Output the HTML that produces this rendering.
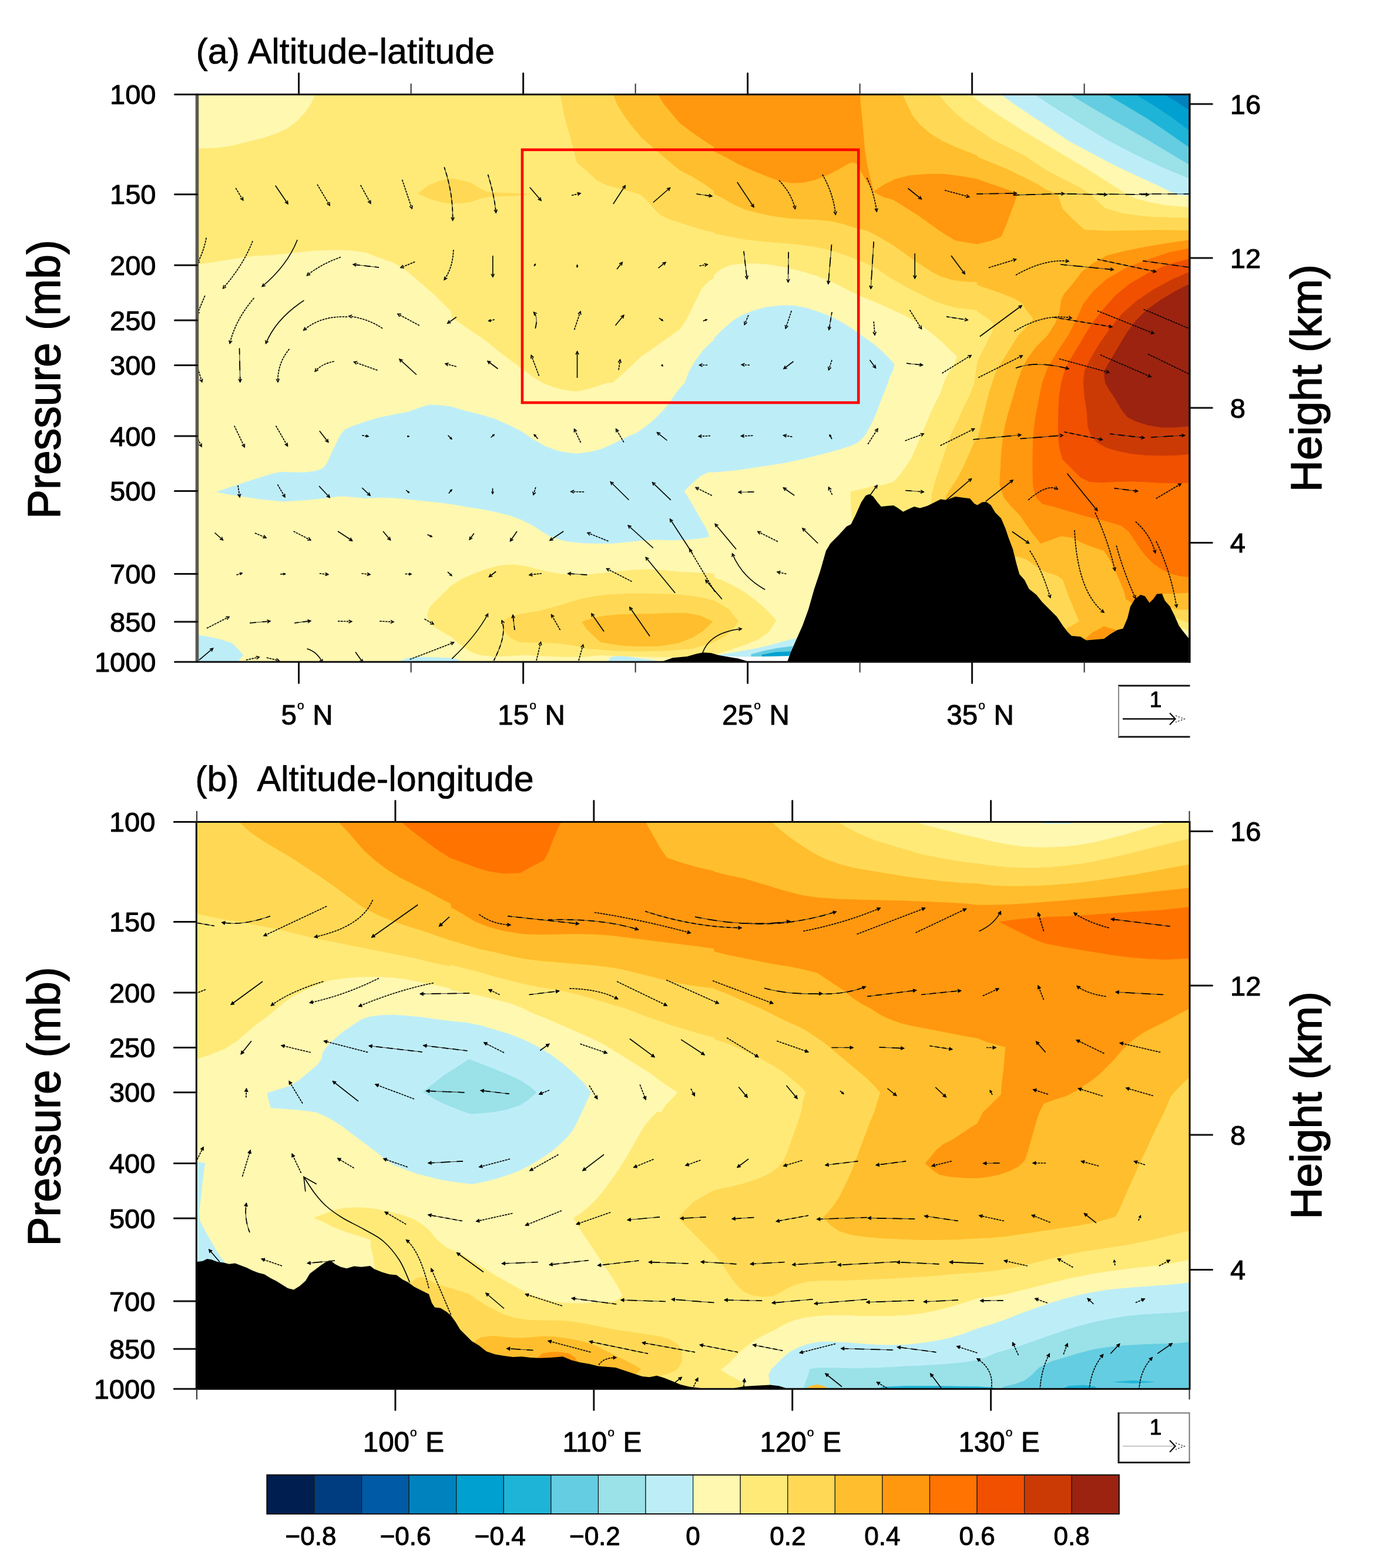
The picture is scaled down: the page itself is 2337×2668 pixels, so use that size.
<!DOCTYPE html>
<html lang="en"><head><meta charset="utf-8"><title>Altitude-latitude and altitude-longitude sections</title>
<style>html,body{margin:0;padding:0;background:#fff}svg{display:block}text{font-family:"Liberation Sans",Arial,Helvetica,sans-serif;fill:#000;stroke:#000;stroke-linejoin:round}.tk{stroke-width:1px}.tt{stroke-width:.7px}.ax{stroke-width:1.5px}</style></head><body>
<svg width="2337" height="2668" viewBox="0 0 2337 2668">
<rect width="2337" height="2668" fill="#fff"/>
<clipPath id="clipa"><rect x="335.5" y="160.7" width="1689.3" height="965.5"/></clipPath>
<g clip-path="url(#clipa)">
<rect x="335.5" y="160.7" width="1689.3" height="965.5" fill="#ffea78"/>
<path d="M535.5,161.2 530,175 520,190 505,206.2 490,217.5 475,225 450,233.8 420,241.2 395,247.5 370,251.2 337,252.5 328,252.5 328,153 535.5,153Z" fill="#fff8b0" stroke="#fff8b0" stroke-width="0.7" stroke-linejoin="round"/>
<path d="M328,450.5 337,450 365,446.2 395,441.2 430,436.2 470,433.8 505,430 535,427 570,425.5 595,426.2 622.5,430 645,438.8 670,447.5 687.5,457.5 702.5,470 720,485 740,502.5 755,517.5 767.5,530 768,540 783,550 800.5,562.5 818,573.8 833,585 848,597.5 863,608.8 878,620 893,631.2 908,642.5 923,651.5 943,659.5 963,664.5 980.5,666.5 998,663.2 1018,657 1033,652 1043,651.5 1063,633.8 1078,620 1090.5,607.5 1105.5,597.5 1123,585 1140.5,572.5 1158,560 1168,545 1178,525 1188,505 1195.5,490 1208,477.5 1215.5,473.8 1216,467.5 1228.5,457.5 1243.5,451.2 1266,448.8 1291,448.8 1316,451.2 1341,456.2 1366,462.5 1391,470 1416,480 1441,492.5 1466,505 1491,515 1516,526.2 1541,537.5 1566,552.5 1586,567.5 1603.5,582.5 1616,595 1628.5,606.2 1626,615 1618.5,627.5 1611,640 1606,651.5 1601,667 1593.5,682 1586,697 1579.8,712 1573.5,727 1566,744.5 1558.5,762 1551,779.5 1541,794.5 1531,808.2 1521,819.5 1503.5,824.5 1486,827 1466,832 1447.2,835.8 1447.2,852 1448.5,869.5 1449.8,890.8 1491,902 1491,1132 1400,1134 328,1134Z" fill="#fff8b0" stroke="#fff8b0" stroke-width="0.7" stroke-linejoin="round"/>
<path d="M1651.2,160.3 1673.5,177.9 1707,200.2 1740.4,221.4 1773.9,241.5 1807.4,261.6 1840.9,281.7 1863.2,295.1 1885.5,309.6 1903.4,320.8 1916.8,329.7 1932.4,337.2 1954.1,343 1983.1,348.8 2033.9,353.2 2033,153Z" fill="#fff8b0" stroke="#fff8b0" stroke-width="0.7" stroke-linejoin="round"/>
<path d="M368.8,837 395,828.2 420,820 445,812 465,805.8 480,803.2 500,804 520,804 537.5,801.5 550,797 557.5,787 565,769.5 572.5,754.5 580,739.5 587.5,730.8 602.5,724.5 620,718.2 645,710.8 670,705.8 695,700.8 712.5,694.5 730,689 745,689.5 767.5,692 793,699.5 818,705.8 843,713.2 868,724.5 888,734.5 908,748.2 928,759.5 948,767 968,770.8 983,772 1003,769.5 1023,764.5 1043,755.8 1063,745.8 1083,737 1098,727 1113,714.5 1128,699.5 1140.5,684.5 1150.5,669.5 1160.5,657 1165.5,652 1173,632.5 1183,615 1195.5,597.5 1208,585 1215.5,578.8 1216,575 1231,560 1248.5,545 1266,535 1286,527.5 1306,522.5 1328.5,520 1351,520 1371,523.8 1391,530 1411,537.5 1431,547.5 1451,560 1468.5,572.5 1486,585 1501,597.5 1513.5,610 1522.2,620 1519.8,630 1514.8,640 1511,651.5 1506,664.5 1499.8,679.5 1493.5,697 1486,714.5 1478.5,729.5 1471,742 1461,752 1448.5,758.2 1428.5,764.5 1406,770.8 1381,777 1356,783.2 1331,788.2 1306,792 1281,795.8 1256,799.5 1231,802 1216,803.2 1205.5,803.2 1193,809.5 1178,822 1164.2,835.8 1173,849.5 1183,867 1193,884.5 1203,902 1206.8,913.2 1193,915.8 1168,918.2 1143,919 1118,918.2 1093,919.5 1068,922 1043,924.5 1018,924.5 993,924 968,921.5 953,918.2 938,913.2 923,904.5 908,894.5 888,884.5 868,877 843,870.8 818,865.8 793,862 768,857.5 745,854.5 720,852 695,849.5 670,847 645,846.5 620,847.5 595,845 580,844 565,845.8 545,848.2 520,850.8 500,852 482.5,853.2 470,852 445,849.5 420,845.8 395,842Z" fill="#bdeef8" stroke="#bdeef8" stroke-width="0.7" stroke-linejoin="round"/>
<path d="M337,1080.8 352.5,1083.2 375,1088.2 395,1094.5 405,1104.5 413.8,1114.5 407.5,1122 405,1129.5 328,1134 328,1080Z" fill="#bdeef8" stroke="#bdeef8" stroke-width="0.7" stroke-linejoin="round"/>
<path d="M675,1127 695,1119.5 720,1118.2 745,1119 767.5,1120 778,1122 788,1127Z" fill="#bdeef8" stroke="#bdeef8" stroke-width="0.7" stroke-linejoin="round"/>
<path d="M1703.6,160.3 1729.3,179 1762.8,201.3 1796.2,223.7 1818.6,239.3 1852.1,257.1 1885.5,275 1903.4,283.9 1941.3,301.8 1974.8,317 1999.4,329.7 2006.3,331.4 2033.9,333.6 2033,153Z" fill="#bdeef8" stroke="#bdeef8" stroke-width="0.7" stroke-linejoin="round"/>
<path d="M1760.5,160.3 1796.2,183.5 1840.9,211.4 1885.5,238.2 1930.2,261.6 1974.8,282.8 2032.9,307.4 2033,153Z" fill="#9ae1e8" stroke="#9ae1e8" stroke-width="0.7" stroke-linejoin="round"/>
<path d="M1820.8,160.3 1863.2,185.7 1907.9,211.4 1952.5,237.1 1997.1,263.8 2032.9,285 2033,153Z" fill="#64cde1" stroke="#64cde1" stroke-width="0.7" stroke-linejoin="round"/>
<path d="M1883.3,160.3 1919,181.2 1952.5,201.3 1986,223.7 2032.9,256.7 2033,153Z" fill="#1eb4d7" stroke="#1eb4d7" stroke-width="0.7" stroke-linejoin="round"/>
<path d="M1932.4,160.3 1963.7,179 1997.1,201.3 2032.9,228.6 2033,153Z" fill="#00a0d0" stroke="#00a0d0" stroke-width="0.7" stroke-linejoin="round"/>
<path d="M1981.5,160.3 2001.6,172.3 2032.9,192.9 2033,153Z" fill="#0082be" stroke="#0082be" stroke-width="0.7" stroke-linejoin="round"/>
<path d="M727.5,1044.5 732.5,1032 742.5,1022 755,1009.5 767.5,997 788,984.5 808,975.8 833,967 853,962 873,960.8 893,963.2 913,968.2 933,973.2 958,977 983,978.2 1008,977 1033,974.5 1058,972 1083,969.5 1108,969 1133,970.8 1158,973.2 1183,974.5 1215.5,975.8 1216,983.2 1231,988.2 1248.5,997 1266,1007 1283.5,1019.5 1298.5,1032 1311,1044.5 1321,1055.8 1308,1075.7 1290.2,1088 1267.9,1096.9 1245.5,1104.7 1223.2,1111.4 1200.9,1115.4 1169.6,1117.5 1133.9,1118.1 1089.3,1117 1044.6,1115.9 1022.3,1114.8 993,1117.5 968,1117.5 943,1117 918,1115.8 893,1114.5 868,1115.8 843,1117 818,1114.5 803,1109.5 790.5,1102 778,1092 768,1083.2 752.5,1074.5 740,1067 730,1057Z" fill="#ffea78" stroke="#ffea78" stroke-width="0.7" stroke-linejoin="round"/>
<path d="M1033.5,1127.1 1040.2,1118.1 1055.8,1116.3 1073.7,1118.1 1089.3,1120.8 1107.1,1122.6 1125,1127.1Z" fill="#bdeef8" stroke="#bdeef8" stroke-width="0.7" stroke-linejoin="round"/>
<path d="M1223.2,1114.8 1245.5,1111 1267.9,1107 1290.2,1102.9 1312.5,1097.6 1334.8,1091.3 1357.1,1085.8 1343.8,1117 1234.4,1117.5Z" fill="#bdeef8" stroke="#bdeef8" stroke-width="0.7" stroke-linejoin="round"/>
<path d="M1279,1113.2 1301.3,1107.4 1323.7,1102.9 1349.3,1099.8 1342.6,1117 1279,1117Z" fill="#64cde1" stroke="#64cde1" stroke-width="0.7" stroke-linejoin="round"/>
<path d="M1296.9,1114.3 1319.2,1110.1 1346,1108.8 1342,1117 1296.9,1117Z" fill="#00a0d0" stroke="#00a0d0" stroke-width="0.7" stroke-linejoin="round"/>
<path d="M1234.4,1117.2 1267.9,1118.1 1312.5,1117.2 1342.6,1116.6 1339.3,1125.9 1270.1,1125.9 1256.7,1120.8Z" fill="#ffffff" stroke="#ffffff" stroke-width="0.7" stroke-linejoin="round"/>
<path d="M711.2,329.5 730,315 750,307.5 767.5,303.8 783,306.2 800.5,311.2 815.5,320 828,326.2 843,328 873,329 903,330.2 875.5,333 853,333.8 833,334.5 818,337.5 800.5,343.8 783,345.5 768,346.2 750,343.8 730,337.5Z" fill="#ffd955" stroke="#ffd955" stroke-width="0.7" stroke-linejoin="round"/>
<path d="M954.2,161.2 959.2,190 965.5,215 973,240 978,260 981.8,276.2 998,290 1015.5,306.2 1033,315 1055.5,321.2 1075.5,326.2 1090.5,331.2 1103,342.5 1113,355 1123,365 1138,372.5 1158,378.8 1180.5,386.2 1203,392.5 1215.5,395 1216,397.5 1236,401.2 1261,406.2 1291,410 1321,412.5 1351,415 1381,418.8 1406,423.8 1431,431.2 1456,440 1476,448.8 1493.5,457.5 1511,470 1528.5,480 1546,490 1566,500 1586,510 1606,517.5 1628.5,523.8 1663.5,527.5 1664,530 1679,540 1691.5,550 1689,565 1679,585 1669,605 1664,615 1658.5,652 1651,672 1641,692 1631,714.5 1621,734.5 1613.5,754.5 1606,777 1598.5,799.5 1591,822 1586,842 1585.5,857 1591,902 1600,1134 2033,1134 2033.9,371.6 1954.1,369.1 1910.6,363.3 1881.6,354.6 1867.1,341.6 1854,330 1838,319.1 1816.3,308.2 1780,289.3 1744,265 1714,250 1689,237.5 1663.5,220 1641,205 1626,192.5 1611,177.5 1598.5,161.2 1598,153 954,153Z" fill="#ffd955" stroke="#ffd955" stroke-width="0.7" stroke-linejoin="round"/>
<path d="M853,1058.2 868,1049.5 888,1044.5 913,1040.8 938,1034.5 963,1027 988,1019.5 1013,1014.5 1038,1012 1068,1010 1098,1010 1128,1010.8 1158,1012 1188,1015.8 1215.5,1022 1228.5,1029.5 1241,1037 1248.5,1047 1256.8,1056.8 1247.8,1069 1234.4,1082.4 1212.1,1093.6 1178.6,1103.6 1133.9,1107 1089.3,1108.1 1044.6,1107 1000,1103.6 978,1098.2 953,1095 928,1093.2 903,1093.2 883,1092 868,1084.5 858,1072Z" fill="#ffd955" stroke="#ffd955" stroke-width="0.7" stroke-linejoin="round"/>
<path d="M1044.2,161.2 1050.5,177.5 1063,197.5 1078,217.5 1093,235 1110.5,250 1128,265 1145.5,280 1158,290 1178,300 1198,312.5 1215.5,325 1216,330 1231,337.5 1248.5,347.5 1266,355.5 1291,362.5 1316,367.5 1341,371.2 1366,372.5 1391,373.8 1416,376.2 1436,381.2 1456,387.5 1476,392.5 1491,400 1506,408.8 1521,417.5 1538.5,430 1556,442.5 1571,452.5 1586,462.5 1601,470 1621,476.2 1641,478.8 1663.5,480 1664,485 1694,495 1726.5,507.5 1739,515 1749,530 1759,542.5 1749,555 1734,570 1721.5,590 1709,610 1696.5,630 1689,651.5 1684,667 1679,687 1674,707 1669,727 1664,747 1658.5,752 1651,769.5 1641,792 1631,812 1621,827 1611,842 1608.5,852 1616,902 1700,1134 2033,1134 2033.9,392.4 1968.6,391.6 1925.1,392.4 1881.6,393.1 1845.3,390.9 1823.5,370.6 1809,356.1 1804.7,344.5 1800.3,330.7 1780,322.7 1764,312.5 1739,300 1714,288 1689,277.5 1664,267.5 1663.5,265 1628.5,251.2 1603.5,240 1583.5,227.5 1566,212.5 1553.5,197.5 1543.5,177.5 1536,161.2 1536,153 1044,153Z" fill="#ffbe2d" stroke="#ffbe2d" stroke-width="0.7" stroke-linejoin="round"/>
<path d="M990.5,1058.2 1008,1052 1028,1048.2 1053,1045.8 1083,1045 1113,1044.5 1143,1043.2 1168,1043.2 1193,1048.2 1213.2,1057.8 1196.4,1073.5 1178.6,1084.6 1156.2,1093.6 1122.8,1099.2 1089.3,1099.8 1055.8,1098 1022.3,1092.5 1008,1079.5 998,1069.5Z" fill="#ffbe2d" stroke="#ffbe2d" stroke-width="0.7" stroke-linejoin="round"/>
<path d="M1120.5,161.2 1130.5,177.5 1143,192.5 1158,210 1178,225 1198,238.8 1215.5,250 1216,257.5 1236,267.5 1256,278.8 1281,290 1306,300 1326,307.5 1346,311.2 1366,310.8 1386,306.2 1406,298.8 1426,288.8 1441,280 1449.8,276.2 1457.2,277.5 1466,292.5 1476,310 1487.2,326.2 1483.5,312.5 1478.5,292.5 1474.8,275 1471.5,252.5 1469,222.5 1466,190 1463.5,161.2 1463,153 1120,153Z" fill="#ff980f" stroke="#ff980f" stroke-width="0.7" stroke-linejoin="round"/>
<path d="M1487.2,326.2 1503.5,315 1523.5,305 1548.5,298.8 1578.5,296.2 1606,296.2 1636,300 1663.5,305 1684,312.5 1706.5,320 1731.5,328.8 1726.5,345 1719,365 1711.5,385 1704,402.5 1689,408.8 1664,415 1646,412.5 1626,408.8 1611,400 1596,390 1578.5,377.5 1561,365 1541,352.5 1521,340 1503.5,335Z" fill="#ff980f" stroke="#ff980f" stroke-width="0.7" stroke-linejoin="round"/>
<path d="M2031.5,407.5 1989,413.8 1951.5,420 1914,427.5 1884,435 1861.5,447.5 1841.5,462.5 1826.5,482.5 1811.5,500 1806.5,510 1804,530 1796.5,550 1784,570 1764,590 1749,610 1739,630 1731.5,651.5 1724,677 1716.5,702 1710.2,727 1706.5,752 1704,777 1702.8,802 1701.5,824.5 1709,847 1724,864.5 1736.5,877 1746.5,892 1759,909.5 1771.5,924.5 1789,918.2 1806.5,912 1824,914.5 1844,924.5 1864,932 1879,937 1889,952 1899,972 1906.5,989.5 1914,1007 1916.5,1019.5 1939,1032 1976.5,1022 1979,1010 1996.5,1009.5 2031.5,1008.2Z" fill="#ff980f" stroke="#ff980f" stroke-width="0.7" stroke-linejoin="round"/>
<path d="M1846.5,1088.2 1859,1077 1879,1065.8 1899,1072 1901.5,1082 1879,1094.5Z" fill="#ff980f" stroke="#ff980f" stroke-width="0.7" stroke-linejoin="round"/>
<path d="M2031.5,421.2 1989,430 1951.5,442.5 1914,457.5 1884,475 1861.5,495 1844,517.5 1834,540 1819,570 1799,600 1784,625 1774,651.5 1769,677 1764,702 1760.2,727 1758.5,752 1757.8,777 1757.8,802 1758.5,827 1764,847 1774,857 1794,862 1819,869.5 1844,877 1869,883.2 1889,888.2 1909,894.5 1921.5,904.5 1931.5,919.5 1941.5,934.5 1951.5,947 1964,959.5 1979,969.5 1996.5,977 2014,980.8 2031.5,982Z" fill="#ff7300" stroke="#ff7300" stroke-width="0.7" stroke-linejoin="round"/>
<path d="M2031.5,438.8 1989,450 1954,465 1924,482.5 1899,502.5 1879,525 1859,550 1844,575 1829,600 1814,625 1806.5,651.5 1802.8,677 1801.5,702 1801,727 1801.5,747 1804,764.5 1809,782 1824,797 1839,812 1854,819.5 1876.5,820.8 1901.5,819.5 1926.5,819 1951.5,820 1976.5,821.5 2001.5,822 2031.5,820.8Z" fill="#f05000" stroke="#f05000" stroke-width="0.7" stroke-linejoin="round"/>
<path d="M2031.5,460 1996.5,475 1964,492.5 1934,512.5 1909,535 1889,560 1871.5,585 1856.5,610 1846.5,630 1844,651.5 1846.5,677 1850.2,702 1851.5,724.5 1856.5,739.5 1866.5,752 1881.5,760.8 1901.5,767 1926.5,772 1951.5,774.5 1976.5,775 2001.5,774.5 2031.5,772Z" fill="#cb3a05" stroke="#cb3a05" stroke-width="0.7" stroke-linejoin="round"/>
<path d="M2031.5,480 2001.5,495 1976.5,510 1951.5,527.5 1934,545 1919,565 1904,590 1889,615 1879,632.5 1881.5,651.5 1889,664.5 1899,679.5 1909,697 1919,709.5 1934,717 1954,723.2 1976.5,727 1999,727 2031.5,724.5Z" fill="#9b2310" stroke="#9b2310" stroke-width="0.7" stroke-linejoin="round"/>
<path d="M1730.2,947 1746.5,952 1764,964.5 1781.5,974.5 1799,979.5 1809,987 1814,1002 1821.5,1022 1829,1039.5 1836.5,1057 1824,1064.5 1814,1069.5 1789,1052 1739,1002 1724,952Z" fill="#ffd955" stroke="#ffd955" stroke-width="0.7" stroke-linejoin="round"/>
<path d="M1989,1033.2 2004,1038.2 2031.5,1037 2031.5,1097 2014,1077 1999,1049.5Z" fill="#ffd955" stroke="#ffd955" stroke-width="0.7" stroke-linejoin="round"/>
<path d="M2001.5,1052 2031.5,1063.2 2031.5,1097 2014,1077Z" fill="#ffea78" stroke="#ffea78" stroke-width="0.7" stroke-linejoin="round"/>
<path d="M2010.2,1068.2 2031.5,1078.2 2031.5,1097 2016.5,1078.2Z" fill="#fff8b0" stroke="#fff8b0" stroke-width="0.7" stroke-linejoin="round"/>
<path d="M2020.2,1083.2 2031.5,1087 2031.5,1097 2024,1088.2Z" fill="#bdeef8" stroke="#bdeef8" stroke-width="0.7" stroke-linejoin="round"/>
<path d="M1339.8,1127 1346,1109.5 1356,1087 1366,1064.5 1376,1037 1386,1002 1396,972 1406,937 1413.5,924.5 1428.5,909.5 1441,895.8 1448.5,892 1456,877 1466,854.5 1473.5,843.2 1479.8,840.8 1486,844.5 1493.5,854.5 1499.8,862 1511,860.8 1521,860 1528.5,864.5 1537.2,870.8 1546,866.5 1556,862 1566,864.5 1578.5,860.8 1591,854.5 1601,849.5 1611,850.8 1626,845 1641,847 1651,848.2 1658.5,857 1663.5,859.5 1671.5,854.5 1679,854 1686.5,859.5 1694,872 1704,882 1711.5,899.5 1716.5,914.5 1724,934.5 1730.2,959.5 1735.2,977 1744,987 1751.5,1002 1764,1012 1774,1024.5 1786.5,1037 1799,1049.5 1809,1064.5 1816.5,1074.5 1824,1082 1839,1083.2 1849,1089.5 1864,1088.2 1879,1087 1889,1079.5 1901.5,1072 1911.5,1069.5 1919,1052 1924,1032 1931.5,1019.5 1941.5,1012 1949,1014.5 1956.5,1025.8 1962.8,1019.5 1969,1010.8 1977.8,1010 1982.8,1022 1991.5,1032 1999,1047 2006.5,1064.5 2014,1074.5 2024,1087 2034,1097 2033,1134 1330,1134Z" fill="#000"/>
<path d="M1122.8,1127.1 1145.1,1119.2 1169.6,1117 1185.3,1112.5 1196.4,1110.3 1209.8,1111 1223.2,1114.8 1241.1,1118.1 1256.7,1120.4 1270.1,1124.4 1274.6,1127.1Z" fill="#000"/>
<path d="M401.2,320L413.8,340.8M540,313.8L561.2,349.5M613.8,315L630.8,346.2M684.5,305.8L701.2,355M351.2,404.5Q346.6,428.4 335.5,448.8M430,410Q415.2,449.6 379.5,490.8M580,437.5Q546.2,449.4 522.5,468.8M706.2,445.5L682,455.5M771.8,425Q771,454.4 756.2,476.2M348.8,503L335.5,535M432.5,507Q400.6,544.2 391.2,584.5M591.2,539.2Q546,536.9 516.8,562M651.2,558.8Q625,541.6 593.8,538M713.8,553.8L677,534.2M335.5,622.5L343.8,650M492.5,593.8Q472.2,618.1 473,650M568.8,615Q547.5,619 536.2,632M642.5,630L602.5,615.8M973,332.5L988,328.8M1190.5,452.5L1204.2,450M841.8,543.8L831.8,546.2M977.5,561.2L988,530M776.8,623.8L758,618.8M917.5,639.5L904.2,604.5M1053,629.5L1055.5,612M1204.2,621.2L1190.5,621.2M1326,307Q1347.2,328.8 1353.5,355.5M1399.8,297Q1418.5,329 1422.2,365M1475.5,302.5Q1488.1,328.8 1492.2,360M1608,323.8L1649.8,335M1274,536.2L1267.2,552.5M1347.2,528.8L1337.2,558.8M1487.2,547L1489,570M1548.5,527.5L1568.5,559.5M1276,621.2L1262.2,620.5M1416,612.5L1410.5,629.5M1603.5,635L1653,604.5M1682.8,455.5L1729.5,441.2M1729,468Q1779,439.8 1819,444.5M1726.5,563.8Q1777.8,532.5 1824,541.2M1867.8,528.8L1964,567.5M1946.5,526.2L2029,561.2M1665.2,642.5L1740.2,605M1802.8,610.5L1887.8,633.8M1872.8,603.8L1959,641.2M1954,602.5L2029,638.8M337,747L343,760M398.8,724.5L416.2,760.8M469.5,724.5L489.5,759M616.2,740.8L627,742.5M405,825.8L408,845.8M472.5,824.5L485,845.8M433.8,907L453,915M499.5,904L528.8,919M402.5,978.2L412,975.2M543.8,975.8L558.8,977.5M615.5,975.8L630,977.5M689.5,976.5L700,977M352,1069L390,1049.5M575,1057L598.8,1057.5M646.2,1057L670,1058.2M722.5,1053.2L738,1062M418.8,1123L441.2,1118M453.8,1119L475,1124M697.5,1122L772.5,1093.2M988.5,753.2L977.5,730M1061.8,752.5L1048.5,730M1209.2,741.5L1189.2,742.5M911.8,829L908,842M994.2,837L971.8,836.5M1211.8,843.2L1184.2,829.5M1035.5,920.8L1000,906.5M921.8,975.8L901,978.2M1075.5,989.5L1032.5,967.5M1216.8,1007L1173.5,934M953.5,1072L938.5,1045.8M913,1124L920.5,1092.5M985,1124L992.5,1097M1281.5,741.2L1261.5,742M1348.5,743.2L1333.5,740.8M1477.2,755.8L1494,729.5M1540.5,750L1572.2,738.2M1600.5,758.2L1658.5,729.5M1416.5,842L1410.5,829M1324,921.5L1289.8,904.5M1338.5,976.5L1323,973.2M1750.2,850.8Q1782.8,822.4 1800.2,832.5M1967.8,848.2L2010.2,823.2M1864,872Q1887.1,922.6 1897.8,970.8M1932.8,887.5Q1958.4,909.9 1966.5,940.8M1967.8,920.8Q1992.8,972 2002.8,1033.2M1752.8,937Q1772.8,967 1787.8,1017M1829,902Q1834,1007 1879,1042M1900.2,928.2Q1911.5,970.8 1932.8,1018.2" fill="none" stroke="#000" stroke-width="1.65" stroke-dasharray="3.6 1.3"/>
<path d="M756.2,284.5Q771.6,330.2 770.5,375M830.5,297Q841.1,330.5 844.2,362M1416,531.2L1411,561.2M1611,538.8L1647.2,544.5M1867.8,441.2L1967.8,462.5M1794,540L1892.8,556.2M840.5,1124Q863.6,1079.1 854.2,1055.8M1811.5,735L1876.5,748.2" fill="none" stroke="#333" stroke-width="1.1"/>
<path d="M756.2,284.5Q771.6,330.2 770.5,375M830.5,297Q841.1,330.5 844.2,362M1416,531.2L1411,561.2M1611,538.8L1647.2,544.5M1867.8,441.2L1967.8,462.5M1794,540L1892.8,556.2M840.5,1124Q863.6,1079.1 854.2,1055.8M1811.5,735L1876.5,748.2" fill="none" stroke="#000" stroke-width="1.7" stroke-dasharray="7.2 4.8" stroke-dashoffset="2.4"/>
<path d="M645,455L601.2,450M1185.5,330L1211.8,333.8M1266,427.5L1271.5,474.5M1543,618.2L1570.5,621.2M1945.2,443.8L2029,455.5M501.2,1060L528.8,1056.5M876,1072L873,1046.5M1889,738.2L1947.8,745M1896.5,830.8L1936.5,835.8" fill="none" stroke="#333" stroke-width="1.1"/>
<path d="M645,455L601.2,450M1185.5,330L1211.8,333.8M1266,427.5L1271.5,474.5M1543,618.2L1570.5,621.2M1945.2,443.8L2029,455.5M501.2,1060L528.8,1056.5M876,1072L873,1046.5M1889,738.2L1947.8,745M1896.5,830.8L1936.5,835.8" fill="none" stroke="#000" stroke-width="1.7" stroke-dasharray="10.8 7.2" stroke-dashoffset="3.6"/>
<path d="M407.5,592.5L408.8,650M911.2,558.8Q916.1,540 908.5,531.2M1342.2,428.8L1341.5,480M1415.5,416.2L1409.8,483M1487.2,411.2L1482.2,491.2M1662.2,330L1730.2,328.8M1724.5,332L1811.5,329.5M1795,329.5L1884,331.2M1866.8,330L1955.2,331.2M1939,330L2029,330M1805.2,450L1895.2,458.8M1729,626.2Q1764,613.1 1819,627.5M425,1060L460,1057M999.2,978.2L966.8,975.8M1283.5,837L1257.2,837.5M1541,834.5L1572.2,837M1656.5,747.8L1737.8,740M1736.5,746.5L1809,740.8M1959,744L2016.5,740.8" fill="none" stroke="#333" stroke-width="1.1"/>
<path d="M407.5,592.5L408.8,650M911.2,558.8Q916.1,540 908.5,531.2M1342.2,428.8L1341.5,480M1415.5,416.2L1409.8,483M1487.2,411.2L1482.2,491.2M1662.2,330L1730.2,328.8M1724.5,332L1811.5,329.5M1795,329.5L1884,331.2M1866.8,330L1955.2,331.2M1939,330L2029,330M1805.2,450L1895.2,458.8M1729,626.2Q1764,613.1 1819,627.5M425,1060L460,1057M999.2,978.2L966.8,975.8M1283.5,837L1257.2,837.5M1541,834.5L1572.2,837M1656.5,747.8L1737.8,740M1736.5,746.5L1809,740.8M1959,744L2016.5,740.8" fill="none" stroke="#000" stroke-width="1.7" stroke-dasharray="16.2 10.8" stroke-dashoffset="5.4"/>
<path d="M468.8,315.8L490,347M506.2,408Q488.8,452.2 446.2,487.5M517.5,511.2Q470,542.1 452.5,584.5M708.8,637.5L680,611.2M901.8,318.8L921,341.2M1043.8,347L1064.2,315.8M1111.8,344.5L1140.5,319.5M838.8,435L838.8,471.2M909.2,453L911,449.5M982.5,450L982.5,454.5M1050,458L1059.2,446.2M1120.5,456.2L1133,446.2M776.8,539.5L761.8,550M1047.5,553.8L1061.8,536.2M1121.8,541.2L1128,545.5M1196.8,546.2L1203,543.8M847.5,627.5L830,614.5M982.5,643L982.5,598M1126,620.5L1128,622.5M1254.8,310L1283,352.5M1545.5,320.5L1568.5,338.8M1557.2,431.2L1557.2,473.8M1619,435L1642.2,466.2M1350.5,615L1334,627.5M1480.5,612.5L1490.5,626.2M1667.8,572.5L1739,520M543.8,733.2L558.8,752.5M693,742.5L696,742.5M762.5,740.8L768.8,747M543,827L561.2,846.5M616.2,830L630,843.2M691.2,834L696.2,838.2M763.8,839.5L768.8,833.2M365.5,906.5L379.5,919M575,904L599.5,920M652,904L664.5,919M727.5,909.5L735,913.2M477,977L485.5,976.5M762,973.2L768.8,979.5M338.8,1123.2L362.5,1103.2M522.5,1104Q539.4,1108.5 548.8,1127M605,1109.5L617.5,1127M835.5,744.5L841,739.5M915.5,746.5L909.2,739.5M1135.5,749.5L1118.5,735.8M838.5,830.8L838.5,840M1070.5,850.8L1039.2,820M1141.8,850.8L1110.5,820.8M806.8,907.5L799.2,918.2M880,904L868.5,920.8M959.2,904L936,919.5M1111.8,932.5L1069.2,894M1178,940.8L1140.5,883.2M844.2,972.5L832.5,981.5M1149.2,1009L1099.2,948.2M769.2,1120.8Q811.1,1081.4 830.5,1044.5M1028,1074.5L1006.8,1044M1106,1082.5L1071.8,1033.2M1193,1124.5Q1198.4,1076.8 1262.2,1070M1416,747L1412.2,740M1352.2,843.2L1333.5,830M1481.5,842L1493,825.8M1611,850.8L1653.5,814.5M1253,934.5L1217.2,891.5M1392.2,924.5L1366,899M1302.2,1003.2Q1262.6,981.4 1246.5,942M1229,1019.5L1201,987M1677.8,853.2L1724,817M1816.5,805.8L1867.8,869M1722.8,904.5L1751.5,924.5" fill="none" stroke="#000" stroke-width="1.6"/>
<path d="M413.3,335L413.8,340.8L408.8,337.7M489.3,341.2L490,347L484.9,344.2M560.9,343.7L561.2,349.5L556.3,346.4M630.6,340.5L630.8,346.2L626,343M702.1,349.3L701.2,355L697.1,351M773.3,369.9L770.5,375L768,369.8M340.3,445.5L335.5,448.8L335.7,443M384.9,488.6L379.5,490.8L380.9,485.1M451.9,486.2L446.2,487.5L448.5,482.2M528.2,467.5L522.5,468.8L524.8,463.4M606.1,453.2L601.2,450L606.7,448M687.8,456L682,455.5L685.8,451.1M761.3,473.4L756.2,476.2L757,470.5M339.9,531.2L335.5,535L335,529.2M395,580.1L391.2,584.5L389.9,578.9M456.9,580.7L452.5,584.5L452,578.7M522.4,560.6L516.8,562L519,556.6M598.6,541.2L593.8,538L599.2,536M680.3,539L677,534.2L682.8,534.3M344.8,644.3L343.8,650L339.7,645.8M411.3,644.8L408.8,650L406,644.9M475.5,644.8L473,650L470.2,644.9M541.6,629.8L536.2,632L537.6,626.4M606.5,620L602.5,615.8L608.3,615M682,616.7L680,611.2L685.6,612.8M846.4,356.6L844.2,362L841.1,357.1M919.6,335.6L921,341.2L915.6,339M982.3,327.4L988,328.8L983.6,332.6M1059.2,318.6L1064.2,315.8L1063.6,321.5M1134.9,320.9L1140.5,319.5L1138.3,324.9M1207,330.4L1211.8,333.8L1206.3,335.6M841.4,466.1L838.8,471.2L836.1,466.1M908.9,451L911,449.5L911,452.1M983.7,452.2L982.5,454.5L981.3,452.2M1054,448.7L1059.2,446.2L1058.1,451.9M1127.3,447.4L1133,446.2L1130.6,451.5M1198.7,448.3L1204.2,450L1199.6,453.5M767.5,549.2L761.8,550L764.5,544.9M836,547.2L831.8,546.2L835,543.4M909.9,536.9L908.5,531.2L913.9,533.4M983.9,534.1L988,530L988.9,535.7M1056.4,538.6L1061.8,536.2L1060.5,541.9M1126.5,542.7L1128,545.5L1124.9,545.1M1200.2,543.5L1203,543.8L1201.1,545.9M762.3,622.6L758,618.8L763.7,617.5M832.6,619.7L830,614.5L835.7,615.5M903.6,610.3L904.2,604.5L908.5,608.4M979.9,603.2L982.5,598L985.1,603.2M1052.2,616.7L1055.5,612L1057.4,617.5M1127.2,620L1128,622.5L1125.5,621.7M1195.6,623.9L1190.5,621.2L1195.6,618.6M1282.3,346.7L1283,352.5L1277.9,349.7M1354.9,349.9L1353.5,355.5L1349.8,351.1M1424.3,359.6L1422.2,365L1419.1,360.1M1494.2,354.5L1492.2,360L1489,355.2M1566.1,333.5L1568.5,338.8L1562.8,337.6M1645.4,331.1L1649.8,335L1644.1,336.2M1273.5,469.1L1271.5,474.5L1268.3,469.7M1344.2,474.9L1341.5,480L1338.9,474.8M1412.8,478.1L1409.8,483L1407.6,477.6M1485.2,486.3L1482.2,491.2L1479.9,485.9M1559.9,468.6L1557.2,473.8L1554.6,468.6M1641.3,460.5L1642.2,466.2L1637.1,463.7M1271.7,548.7L1267.2,552.5L1266.8,546.7M1341.4,554.7L1337.2,558.8L1336.4,553M1414.4,556.6L1411,561.2L1409.3,555.7M1491.2,564.6L1489,570L1486,565M1568,553.7L1568.5,559.5L1563.5,556.5M1642.6,541.1L1647.2,544.5L1641.7,546.3M1267.3,623.4L1262.2,620.5L1267.5,618.2M1339.7,626.5L1334,627.5L1336.5,622.3M1414.6,625.4L1410.5,629.5L1409.6,623.8M1489.6,620.5L1490.5,626.2L1485.3,623.6M1565.6,618.1L1570.5,621.2L1565.1,623.3M1647.2,605L1653,604.5L1650,609.5M1725,326.2L1730.2,328.8L1725.1,331.5M1806.3,327L1811.5,329.5L1806.4,332.3M1878.9,328.5L1884,331.2L1878.8,333.8M1950.1,328.5L1955.2,331.2L1950,333.8M2023.8,327.4L2029,330L2023.8,332.6M1723.8,440.2L1729.5,441.2L1725.3,445.3M1814.2,441.3L1819,444.5L1813.6,446.5M1890.4,455.6L1895.2,458.8L1889.9,460.9M1963.2,458.9L1967.8,462.5L1962.1,464M2024.2,452.2L2029,455.5L2023.5,457.4M1733.3,520.9L1739,520L1736.4,525.2M1819.4,537.7L1824,541.2L1818.4,542.9M1888.1,552.8L1892.8,556.2L1887.2,558M1960.2,563.1L1964,567.5L1958.2,568M2025.3,556.8L2029,561.2L2023.2,561.7M1734.5,605L1740.2,605L1736.8,609.7M1814.7,623.6L1819,627.5L1813.3,628.7M1883.5,629.8L1887.8,633.8L1882.1,634.9M1955.3,636.8L1959,641.2L1953.2,641.6M2025.5,634.1L2029,638.8L2023.2,638.9M343.2,754.2L343,760L338.4,756.4M416.4,755L416.2,760.8L411.6,757.2M489.2,753.2L489.5,759L484.6,755.8M557.7,746.8L558.8,752.5L553.5,750M623.3,739.8L627,742.5L622.6,743.9M693.7,741.3L696,742.5L693.7,743.7M767.6,743.5L768.8,747L765.2,745.9M409.8,840.2L408,845.8L404.6,841M484.6,840L485,845.8L480.1,842.6M559.6,840.9L561.2,846.5L555.8,844.5M628.1,837.8L630,843.2L624.5,841.6M695.2,835.7L696.2,838.2L693.6,837.6M765.7,834.6L768.8,833.2L768.1,836.5M377.4,913.6L379.5,919L373.9,917.5M449.2,910.6L453,915L447.2,915.4M525.4,914.3L528.8,919L523,919M596.6,915L599.5,920L593.7,919.4M663.2,913.3L664.5,919L659.2,916.7M732.9,910.4L735,913.2L731.5,913.3M407.9,974.6L412,975.2L409,978.2M482.2,975.1L485.5,976.5L482.4,978.3M553.9,974.3L558.8,977.5L553.3,979.5M625.2,974.3L630,977.5L624.6,979.5M696.2,974.8L700,977L696,978.8M767.4,975.9L768.8,979.5L765,978.4M384.2,1049.5L390,1049.5L386.6,1054.2M454.6,1054.8L460,1057L455.1,1060.1M523.3,1054.5L528.8,1056.5L524,1059.8M593.6,1054.8L598.8,1057.5L593.5,1060M665,1055.3L670,1058.2L664.7,1060.6M734.8,1057.2L738,1062L732.2,1061.8M356.9,1104.6L362.5,1103.2L360.2,1108.6M435.6,1116.6L441.2,1118L436.8,1121.7M470.6,1120.3L475,1124L469.4,1125.4M548.8,1121.2L548.8,1127L544.1,1123.6M616.6,1121.3L617.5,1127L612.4,1124.3M766.7,1092.6L772.5,1093.2L768.6,1097.6M838,740.3L841,739.5L839.9,742.4M910.3,743.3L909.2,739.5L912.9,740.9M977.3,735.8L977.5,730L982.1,733.5M1048.9,735.8L1048.5,730L1053.4,733.1M1120.9,741L1118.5,735.8L1124.2,737M1194.5,744.9L1189.2,742.5L1194.3,739.6M840.3,836.5L838.5,840L836.7,836.5M911.9,837.9L908,842L906.9,836.4M976.9,839.2L971.8,836.5L977,834M1041.1,825.5L1039.2,820L1044.8,821.7M1112.4,826.2L1110.5,820.8L1116.1,822.4M1187.7,834.2L1184.2,829.5L1190,829.5M804.1,915.7L799.2,918.2L800,912.8M873.6,918L868.5,920.8L869.3,915M941.8,918.8L936,919.5L938.8,914.4M1003.8,910.9L1000,906.5L1005.8,906M1071.3,899.4L1069.2,894L1074.8,895.5M1141.1,889L1140.5,883.2L1145.5,886.1M838.2,980.4L832.5,981.5L835,976.3M906.4,980.2L901,978.2L905.8,975M971.7,978.8L966.8,975.8L972.1,973.5M1035.9,972.2L1032.5,967.5L1038.3,967.5M1100.5,953.9L1099.2,948.2L1104.6,950.6M1173.9,939.8L1173.5,934L1178.4,937.1M825.8,1047.9L830.5,1044.5L830.4,1050.3M871,1051.9L873,1046.5L876.2,1051.3M938.8,1051.5L938.5,1045.8L943.4,1048.9M1007.5,1049.7L1006.8,1044L1011.9,1046.7M1072.5,1039L1071.8,1033.2L1076.9,1036M853.7,1061.5L854.2,1055.8L858.6,1059.6M916.7,1096.9L920.5,1092.5L921.9,1098.1M988.6,1101.3L992.5,1097L993.7,1102.7M1256.8,1067.9L1262.2,1070L1257.4,1073.2M1266.8,744.4L1261.5,742L1266.6,739.2M1338.2,744.2L1333.5,740.8L1339,739M1412.3,743.3L1412.2,740L1415,741.9M1489,732.4L1494,729.5L1493.4,735.3M1566.5,737.6L1572.2,738.2L1568.3,742.5M1652.7,729.4L1658.5,729.5L1655,734.2M1262.5,840L1257.2,837.5L1262.4,834.8M1336.2,835.1L1333.5,830L1339.2,830.8M1410.3,834.8L1410.5,829L1415.1,832.6M1487.9,828.4L1493,825.8L1492.2,831.5M1567.3,834L1572.2,837L1566.9,839.2M1647.9,815.9L1653.5,814.5L1651.3,819.9M1218.5,897.2L1217.2,891.5L1222.6,893.8M1293.2,909.2L1289.8,904.5L1295.5,904.4M1367.9,904.5L1366,899L1371.5,900.7M1246,947.8L1246.5,942L1250.9,945.8M1327.5,976.9L1323,973.2L1328.6,971.7M1202.4,992.6L1201,987L1206.4,989.2M1732.4,737.9L1737.8,740L1732.9,743.1M1803.6,738.5L1809,740.8L1804.1,743.8M1872,744.6L1876.5,748.2L1870.9,749.8M1942.9,741.8L1947.8,745L1942.3,747M2011.2,738.4L2016.5,740.8L2011.5,743.7M1718.3,818.1L1724,817L1721.6,822.3M1797.1,827.6L1800.2,832.5L1794.5,832.2M1866.5,863.3L1867.8,869L1862.5,866.6M1931.7,832.5L1936.5,835.8L1931,837.7M2004.5,823.6L2010.2,823.2L2007.1,828.1M1748.8,919.4L1751.5,924.5L1745.8,923.7M1899.2,965.1L1897.8,970.8L1894.1,966.3M1967.7,935.1L1966.5,940.8L1962.6,936.4M2004.5,1027.7L2002.8,1033.2L1999.3,1028.6M1788.8,1011.3L1787.8,1017L1783.7,1012.8M1876.5,1036.7L1879,1042L1873.3,1040.9M1933,1012.5L1932.8,1018.2L1928.2,1014.6" fill="none" stroke="#000" stroke-width="1.5" stroke-linejoin="miter"/>
</g>
<rect x="888.9" y="254.8" width="572.3" height="430.3" fill="none" stroke="#ff0000" stroke-width="4.6"/>
<path d="M335.5,160.7V1126.2" fill="none" stroke="#5a5a52" stroke-width="5.6"/>
<path d="M334.1,160.7H2024.8V1126.2H334.1" fill="none" stroke="#111" stroke-width="3"/>
<path d="M2024.8,159.2V1127.7" fill="none" stroke="#111" stroke-width="3.3"/>
<text x="265.5" y="177.3" font-size="47" text-anchor="end" class="tk">100</text>
<text x="265.5" y="347.3" font-size="47" text-anchor="end" class="tk">150</text>
<text x="265.5" y="467.9" font-size="47" text-anchor="end" class="tk">200</text>
<text x="265.5" y="561.5" font-size="47" text-anchor="end" class="tk">250</text>
<text x="265.5" y="638" font-size="47" text-anchor="end" class="tk">300</text>
<text x="265.5" y="758.6" font-size="47" text-anchor="end" class="tk">400</text>
<text x="265.5" y="852.2" font-size="47" text-anchor="end" class="tk">500</text>
<text x="265.5" y="993.2" font-size="47" text-anchor="end" class="tk">700</text>
<text x="265.5" y="1074.7" font-size="47" text-anchor="end" class="tk">850</text>
<text x="265.5" y="1142.8" font-size="47" text-anchor="end" class="tk">1000</text>
<text x="2093.8" y="193.6" font-size="47" text-anchor="start" class="tk">16</text>
<text x="2093.8" y="455.6" font-size="47" text-anchor="start" class="tk">12</text>
<text x="2093.8" y="710.6" font-size="47" text-anchor="start" class="tk">8</text>
<text x="2093.8" y="940.1" font-size="47" text-anchor="start" class="tk">4</text>
<path d="M297.5,160.7H335.5M297.5,330.7H335.5M297.5,451.3H335.5M297.5,544.9H335.5M297.5,621.4H335.5M297.5,742H335.5M297.5,835.6H335.5M297.5,976.6H335.5M297.5,1058.1H335.5M297.5,1126.2H335.5M2024.8,177H2063.3M2024.8,439H2063.3M2024.8,694H2063.3M2024.8,923.5H2063.3M508.6,124.7V160.7M508.6,1126.2V1162.2M890.6,124.7V160.7M890.6,1126.2V1162.2M1272.6,124.7V160.7M1272.6,1126.2V1162.2M1654.6,124.7V160.7M1654.6,1126.2V1162.2" fill="none" stroke="#111" stroke-width="3" stroke-linecap="round"/>
<path d="M699.6,142.2V160.7M699.6,1126.2V1144.2M1081.6,142.2V160.7M1081.6,1126.2V1144.2M1463.6,142.2V160.7M1463.6,1126.2V1144.2M1845.6,142.2V160.7M1845.6,1126.2V1144.2" fill="none" stroke="#333" stroke-width="2"/>
<text class="tk" x="522.6" y="1232.5" font-size="47.5" text-anchor="middle">5<tspan font-size="21" dy="-26" dx="1" style="stroke-width:0.5px">o</tspan><tspan dy="26" dx="1.5"> N</tspan></text>
<text class="tk" x="904.6" y="1232.5" font-size="47.5" text-anchor="middle">15<tspan font-size="21" dy="-26" dx="1" style="stroke-width:0.5px">o</tspan><tspan dy="26" dx="1.5"> N</tspan></text>
<text class="tk" x="1286.6" y="1232.5" font-size="47.5" text-anchor="middle">25<tspan font-size="21" dy="-26" dx="1" style="stroke-width:0.5px">o</tspan><tspan dy="26" dx="1.5"> N</tspan></text>
<text class="tk" x="1668.6" y="1232.5" font-size="47.5" text-anchor="middle">35<tspan font-size="21" dy="-26" dx="1" style="stroke-width:0.5px">o</tspan><tspan dy="26" dx="1.5"> N</tspan></text>
<text x="333.5" y="108.2" font-size="61" text-anchor="start" class="tt" xml:space="preserve">(a) Altitude-latitude</text>
<text class="ax" transform="translate(101.5,645.5) rotate(-90) scale(1,1.03)" font-size="75" text-anchor="middle">Pressure (mb)</text>
<text class="ax" transform="translate(2248.5,643.5) rotate(-90)" font-size="75" text-anchor="middle">Height (km)</text>
<path d="M1903,1166.8H2025.5M1903,1253.8H2025.5" fill="none" stroke="#1a1a1a" stroke-width="3"/>
<path d="M1904,1166.8V1253.8" fill="none" stroke="#888" stroke-width="2"/>
<text x="1967" y="1203.3" font-size="37" text-anchor="middle" class="tk">1</text>
<path d="M1911,1223.3H1999" fill="none" stroke="#111" stroke-width="2.6"/>
<path d="M1991,1213.3L2000.5,1223.3L1991,1233.3" fill="none" stroke="#111" stroke-width="2.2"/>
<path d="M2001,1217.8L2016,1223.3L2001,1228.8" fill="none" stroke="#222" stroke-width="1.3" stroke-dasharray="2.5 2.5"/>
<clipPath id="clipb"><rect x="334.3" y="1398.5" width="1690.7" height="964.8"/></clipPath>
<g clip-path="url(#clipb)">
<rect x="334.3" y="1398.5" width="1690.7" height="964.8" fill="#ffd955"/>
<path d="M326,1555 334.5,1555 357.5,1560 382.5,1565 407.5,1568.8 432.5,1573.8 457.5,1578.8 482.5,1583.8 507.5,1590 532.5,1596.2 557.5,1601.2 582.5,1606.2 607.5,1611.2 632.5,1616.2 657.5,1621.2 682.5,1626.2 707.5,1631.2 732.5,1637.5 767.5,1645 768,1642 793,1648.8 818,1655 843,1662.5 868,1668.8 893,1675 918,1680 943,1683.8 968,1688.8 993,1695 1018,1702.5 1043,1710 1068,1717.5 1093,1727.5 1118,1736.2 1143,1745 1168,1752.5 1193,1760 1215.5,1766.2 1216,1768.8 1236,1775 1256,1783.8 1276,1792.5 1296,1802.5 1316,1813.8 1333.5,1825 1348.5,1837.5 1361,1847.5 1371,1858.8 1366,1875 1363.5,1891.5 1358.5,1907 1352.2,1924.5 1346,1942 1339.8,1959.5 1333.5,1974.5 1323.5,1987 1308.5,1997 1288.5,2005.8 1266,2013.2 1241,2019.5 1216,2024.5 1198,2034.5 1180.5,2044.5 1165.5,2059.5 1154.2,2072 1165.5,2084.5 1178,2097 1193,2112 1205.5,2124.5 1215.5,2134.5 1226,2147 1236,2162 1246,2177 1256,2189.5 1266,2198.2 1281,2204.5 1298.5,2207 1316,2205.8 1328.5,2199.5 1341,2192 1356,2185.8 1376,2180.8 1401,2179.5 1431,2179.5 1461,2178.2 1491,2177 1521,2175.8 1551,2174 1581,2172 1611,2169.5 1641,2167 1663.5,2165.8 1689,2163.2 1714,2159.5 1739,2154.5 1764,2148.2 1789,2142 1814,2135.8 1839,2130.8 1864,2127 1889,2123.2 1914,2119.5 1939,2114.5 1964,2109.5 1989,2103.2 2009,2098.2 2034,2092 2033,2371 326,2371Z" fill="#ffea78" stroke="#ffea78" stroke-width="0.7" stroke-linejoin="round"/>
<path d="M1431,1401.2 1446,1410 1466,1420 1491,1430 1516,1437.5 1541,1445 1566,1452.5 1591,1457.5 1616,1462.5 1641,1466.2 1663.5,1468.8 1689,1472.5 1714,1475 1739,1476.2 1764,1476.2 1789,1475 1814,1472.5 1839,1469.5 1864,1465 1889,1459.5 1914,1453.8 1939,1447.5 1964,1441.2 1989,1435 2034,1424.5 2033,1390 1431,1390Z" fill="#ffea78" stroke="#ffea78" stroke-width="0.7" stroke-linejoin="round"/>
<path d="M326,1802.5 334.5,1802.5 357.5,1795 382.5,1785 402.5,1772.5 420,1757.5 437.5,1742.5 455,1730 470,1717.5 485,1705 500,1695 520,1685 540,1676.2 560,1668.8 585,1665 610,1663 640,1662.5 670,1663.8 695,1667.5 720,1672.5 745,1677.5 767.5,1682.5 768,1685 793,1690 818,1695 843,1701.2 868,1707.5 888,1715 908,1725 928,1732.5 948,1741.2 968,1750 988,1758.8 1008,1767.5 1028,1777.5 1048,1790 1068,1802.5 1088,1815 1108,1827.5 1128,1842.5 1143,1852.5 1153,1858.8 1143,1870 1133,1880 1125.5,1891.5 1118,1892 1108,1902 1095.5,1917 1085.5,1934.5 1075.5,1952 1065.5,1969.5 1053,1989.5 1040.5,2007 1028,2024.5 1015.5,2039.5 1003,2052 988,2064.5 975.5,2072 985.5,2089.5 995.5,2104.5 1005.5,2119.5 1015.5,2134.5 1025.5,2149.5 1035.5,2164.5 1045.5,2179.5 1053,2192 1059.2,2204.5 1050.5,2212 1043,2214.5 1018,2215.8 993,2217 968,2217 943,2214.5 923,2209.5 903,2202 883,2192 863,2180.8 843,2169.5 823,2157 803,2144.5 783,2132 768,2125.8 760,2122 750,2114.5 740,2104.5 730,2092 717.5,2082 702.5,2073.2 685,2067 665,2062 640,2056.5 615,2054 590,2054.5 570,2058.2 550,2065.8 532.5,2072 550,2079.5 570,2089.5 590,2097 610,2103.2 630,2109.5 631.2,2124.5 635,2139.5 637.5,2157 637.5,2204.5 326,2210Z" fill="#fff8b0" stroke="#fff8b0" stroke-width="0.7" stroke-linejoin="round"/>
<path d="M2034,2142 2009,2147 1989,2150.8 1964,2154.5 1939,2157 1914,2160 1889,2163.2 1864,2167 1839,2172 1814,2177 1789,2183.2 1764,2189.5 1739,2195.8 1714,2202 1689,2206.5 1664,2209.5 1641,2217 1616,2224.5 1591,2230.8 1566,2235.8 1541,2238.2 1516,2239.5 1491,2239.5 1466,2239.5 1441,2238.2 1416,2238.2 1391,2239.5 1371,2242 1351,2247 1336,2253.2 1321,2262 1306,2269.5 1291,2277 1276,2287 1263.5,2297 1251,2309.5 1238.5,2322 1227.2,2330.8 1241,2339.5 1256,2347 1266,2354.5 1271,2372 2033,2371Z" fill="#fff8b0" stroke="#fff8b0" stroke-width="0.7" stroke-linejoin="round"/>
<path d="M1566,1401.2 1591,1407.5 1616,1413.8 1641,1420 1663.5,1425 1689,1431.2 1714,1436.2 1739,1440 1764,1441.2 1789,1441.2 1814,1440 1839,1437 1864,1432.5 1889,1426.2 1914,1420 1939,1412.5 1964,1405 1979,1401.2 1979,1390 1566,1390Z" fill="#fff8b0" stroke="#fff8b0" stroke-width="0.7" stroke-linejoin="round"/>
<path d="M1759,1397.5 1779,1401 1819,1401 1839,1397.5Z" fill="#bdeef8" stroke="#bdeef8" stroke-width="0.7" stroke-linejoin="round"/>
<path d="M455,1860 475,1853.8 495,1847.5 510,1837.5 525,1825 540,1812.5 547.5,1802.5 550,1790 557.5,1780 570,1767.5 585,1755 600,1745 615,1735 630,1730 650,1727.5 670,1727 695,1728.8 720,1731.2 745,1735 767.5,1737.5 768,1738 793,1740 818,1745 843,1752.5 868,1760 893,1770 918,1782.5 938,1795 958,1810 978,1827.5 993,1842.5 1005.5,1858.8 998,1875 990.5,1891.5 983,1907 975.5,1922 965.5,1934.5 953,1947 938,1959.5 923,1969.5 903,1982 883,1992 863,1999.5 843,2005.8 823,2010.8 803,2014.5 783,2012 768,2010 750,2007 730,2002 710,1997 690,1989.5 670,1982 655,1972 640,1959.5 620,1944.5 600,1929.5 580,1914.5 560,1902 537.5,1892 505,1888 480,1886.2 461.2,1885 457.5,1872.5Z" fill="#bdeef8" stroke="#bdeef8" stroke-width="0.7" stroke-linejoin="round"/>
<path d="M334.5,1977 348.8,1979.5 346.2,1997 343.8,2017 341.2,2042 338.8,2062 340,2077 347.5,2092 357.5,2109.5 367.5,2127 377.5,2142 382.5,2148.2 382.5,2167 326,2170 326,1975Z" fill="#bdeef8" stroke="#bdeef8" stroke-width="0.7" stroke-linejoin="round"/>
<path d="M2034,2180.8 2009,2184.5 1989,2186.5 1964,2188.2 1939,2190 1914,2192 1889,2194.5 1864,2198.2 1839,2203.2 1814,2209.5 1789,2217 1764,2225.8 1739,2234.5 1714,2244.5 1689,2253.2 1664,2260.8 1641,2269.5 1616,2277 1591,2282 1566,2285.8 1541,2288.2 1516,2289 1491,2288.2 1466,2286.5 1441,2284.5 1416,2283.2 1396,2283.2 1376,2287 1361,2292 1346,2299.5 1333.5,2309.5 1323.5,2319.5 1313.5,2329.5 1308.5,2339.5 1309.8,2349.5 1311,2372 2033,2371Z" fill="#bdeef8" stroke="#bdeef8" stroke-width="0.7" stroke-linejoin="round"/>
<path d="M720,1857.5 740,1842.5 755,1830 767.5,1822.5 783,1812.5 798,1802.5 818,1810 843,1820 868,1830 888,1840 903,1850 913,1858.8 900.5,1870 885.5,1880 863,1887.5 843,1891.5 818,1894 800,1895 783,1888.8 768,1883 755,1877.5 740,1870Z" fill="#9ae1e8" stroke="#9ae1e8" stroke-width="0.7" stroke-linejoin="round"/>
<path d="M2034,2229.5 2009,2233.2 1989,2234.5 1964,2235.8 1939,2237.5 1914,2240 1889,2244.5 1864,2249.5 1839,2255.8 1814,2263.2 1789,2272 1764,2280.8 1739,2289.5 1714,2297 1696.5,2302 1679,2309.5 1664,2314.5 1641,2318.2 1616,2320.8 1591,2322.5 1566,2324 1541,2325 1516,2326.5 1491,2327.5 1466,2328.2 1441,2328.2 1416,2327.5 1396,2327.5 1378.5,2329.5 1376,2339.5 1372.2,2349.5 1369.8,2357 1366,2372 2033,2371Z" fill="#9ae1e8" stroke="#9ae1e8" stroke-width="0.7" stroke-linejoin="round"/>
<path d="M2034,2282 2009,2285.8 1989,2286.5 1964,2287 1939,2288.2 1914,2289.5 1889,2292 1864,2295.8 1839,2302 1814,2309.5 1789,2317 1769,2327 1756.5,2339.5 1744,2349.5 1726.5,2355.8 1709,2359.5 1689,2372 2033,2371Z" fill="#64cde1" stroke="#64cde1" stroke-width="0.7" stroke-linejoin="round"/>
<path d="M1799,2367 1819,2358.5 1844,2357 1864,2359.5 1871.5,2367Z" fill="#1eb4d7" stroke="#1eb4d7" stroke-width="0.7" stroke-linejoin="round"/>
<path d="M1896.5,2351.5 1929,2349.2 1964,2351.5 1929,2353.5Z" fill="#1eb4d7" stroke="#1eb4d7" stroke-width="0.7" stroke-linejoin="round"/>
<path d="M1478.5,2367 1503.5,2360 1541,2358.5 1591,2358.5 1663.5,2359.5 1689,2361 1709,2367Z" fill="#1eb4d7" stroke="#1eb4d7" stroke-width="0.7" stroke-linejoin="round"/>
<path d="M700,2182 710,2174.5 720,2173.2 732.5,2179.5 745,2185.8 757.5,2189.5 767.5,2192 783,2197 798,2202 813,2212 828,2222 843,2229.5 858,2237 878,2243.2 898,2245.8 918,2247 943,2247 968,2248.2 993,2252 1018,2257 1043,2262 1068,2265.8 1093,2269.5 1118,2273.2 1138,2278.2 1153,2287 1160.5,2302 1160.5,2317 1153,2329.5 1138,2337 1118,2342 1093,2367 768,2367 695,2242Z" fill="#ffd955" stroke="#ffd955" stroke-width="0.7" stroke-linejoin="round"/>
<path d="M805.5,2284.5 818,2275.8 838,2273.2 863,2275.8 883,2277 903,2275.8 923,2274 943,2274.5 963,2277 983,2280.8 1003,2285.8 1018,2292 1033,2299.5 1048,2307 1063,2314.5 1078,2322 1090.5,2329.5 1080.5,2339.5 1018,2342 843,2329.5Z" fill="#ffbe2d" stroke="#ffbe2d" stroke-width="0.7" stroke-linejoin="round"/>
<path d="M913,2312 923,2303.2 938,2300.8 953,2300.8 968,2303.2 978,2309.5 983,2317 943,2322Z" fill="#ff980f" stroke="#ff980f" stroke-width="0.7" stroke-linejoin="round"/>
<path d="M1366,2367 1378.5,2358.5 1391,2356 1403.5,2359 1413.5,2367Z" fill="#ffbe2d" stroke="#ffbe2d" stroke-width="0.7" stroke-linejoin="round"/>
<path d="M408.8,1400 425,1415 445,1428.8 470,1443.8 495,1458.8 520,1475 545,1491.2 570,1508.8 595,1527.5 620,1545 645,1557.5 670,1567.5 695,1576.2 720,1583.8 745,1592.5 767.5,1600 768,1600 793,1607.5 818,1615 843,1620 868,1626.2 893,1631.2 923,1635 953,1637.5 983,1640 1013,1642.5 1043,1646.2 1068,1651.2 1093,1657.5 1118,1663.8 1143,1670 1168,1675 1193,1678.8 1215.5,1681.2 1216,1682.5 1236,1690 1256,1698.8 1276,1707.5 1296,1716.2 1316,1726.2 1336,1736.2 1356,1745 1371,1752.5 1386,1762.5 1401,1772.5 1416,1785 1431,1797.5 1446,1810 1461,1822.5 1476,1835 1488.5,1847.5 1498.5,1858.8 1493.5,1875 1488.5,1891.5 1481,1909.5 1473.5,1929.5 1466,1949.5 1458.5,1969.5 1451,1989.5 1443.5,2007 1436,2022 1428.5,2037 1418.5,2052 1408.5,2064.5 1401,2070.8 1413.5,2084.5 1428.5,2094.5 1448.5,2100.8 1473.5,2104.5 1503.5,2107 1533.5,2108.2 1563.5,2109.5 1593.5,2109.5 1623.5,2109 1663.5,2107 1689,2105.8 1714,2103.2 1739,2099.5 1764,2095.8 1789,2092 1814,2088.2 1839,2084.5 1864,2079.5 1884,2074.5 1899,2069.5 1906.5,2054.5 1914,2037 1924,2014.5 1934,1992 1944,1969.5 1954,1949.5 1964,1927 1974,1907 1981.5,1892 1986.5,1880 1991.5,1867.5 2001.5,1855 2014,1842.5 2034,1823.8 2034,1469.5 1989,1477.5 1964,1482.5 1939,1487 1914,1491.2 1889,1495 1864,1498.8 1839,1502 1814,1504.2 1789,1506.2 1764,1507.5 1739,1508 1714,1508 1689,1507 1663.5,1503.8 1636,1502.5 1606,1500 1576,1496.2 1546,1492.5 1516,1487.5 1486,1482.5 1456,1477.5 1431,1471.2 1406,1462.5 1386,1452.5 1366,1440 1346,1426.2 1328.5,1412.5 1316,1401.2 1316,1390 408.8,1390Z" fill="#ffbe2d" stroke="#ffbe2d" stroke-width="0.7" stroke-linejoin="round"/>
<path d="M577.5,1400 590,1412.5 605,1430 620,1447.5 640,1465 660,1480 680,1492.5 705,1505 730,1517.5 750,1528.8 767.5,1537.5 768,1543.8 788,1555 808,1567.5 833,1577.5 858,1583.8 888,1588.8 918,1590 948,1589.5 978,1588.8 1008,1589.5 1038,1591.2 1068,1595 1098,1598.8 1128,1602.5 1158,1606.2 1188,1610 1215.5,1613.8 1216,1618.8 1241,1625 1266,1630 1291,1635 1316,1640 1341,1643.8 1366,1648.8 1391,1655 1406,1665 1421,1675 1436,1685 1451,1697.5 1466,1707.5 1481,1715 1496,1725 1511,1732.5 1531,1740 1551,1745 1571,1748.8 1591,1752.5 1616,1757.5 1641,1762.5 1663.5,1766.2 1679,1772.5 1696.5,1777.5 1711.5,1781.2 1710.2,1800 1707.8,1825 1705.2,1845 1704,1862.5 1694,1872.5 1684,1882.5 1674,1891.5 1663.5,1912 1651,1919.5 1636,1929.5 1621,1939.5 1606,1947 1593.5,1957 1583.5,1969.5 1574.8,1979.5 1586,1989.5 1598.5,1998.2 1616,2002 1641,2004 1663.5,2004.5 1684,2002 1701.5,1998.2 1719,1992 1734,1984.5 1744,1974.5 1749,1959.5 1754,1942 1759,1924.5 1764,1907 1769,1892 1776.5,1877.5 1794,1871.2 1814,1865 1829,1857.5 1844,1847.5 1859,1837.5 1871.5,1827.5 1884,1815 1896.5,1802.5 1909,1787.5 1921.5,1775 1934,1765 1949,1755 1969,1745 1989,1735 2009,1723.8 2034,1711.2 2034,1510 1989,1515 1964,1517.5 1939,1520.5 1914,1523 1889,1525.5 1864,1528 1839,1530 1814,1532.5 1789,1534.2 1764,1536.2 1739,1538 1714,1539.5 1689,1540 1663.5,1540 1641,1537.5 1616,1536.2 1578.5,1534.5 1541,1533 1503.5,1532 1466,1531.2 1428.5,1530 1391,1527.5 1366,1523.8 1341,1517.5 1316,1510 1291,1502.5 1266,1495 1241,1490 1216,1483.8 1215.5,1482.5 1183,1475 1158,1467.5 1135.5,1460 1123,1442.5 1110.5,1420 1099.2,1400 1099,1390 577.5,1390Z" fill="#ff980f" stroke="#ff980f" stroke-width="0.7" stroke-linejoin="round"/>
<path d="M685,1400 700,1412.5 720,1427.5 740,1442.5 755,1452.5 767.5,1460 768,1460 788,1467.5 808,1475 833,1482.5 858,1486.2 885.5,1485 908,1472.5 925.5,1463.8 933,1450 940.5,1430 948,1412.5 954.2,1400 954,1390 685,1390Z" fill="#ff7300" stroke="#ff7300" stroke-width="0.7" stroke-linejoin="round"/>
<path d="M1701.5,1568.8 1726.5,1565 1751.5,1562.5 1789,1560.5 1826.5,1558.8 1864,1556.2 1901.5,1553.8 1939,1551.2 1976.5,1548.8 2001.5,1546.2 2034,1542.5 2034,1630 2009,1631.2 1984,1632.5 1954,1631.2 1924,1628.8 1894,1625 1864,1620 1834,1615 1804,1610 1779,1605 1759,1597.5 1739,1587.5 1719,1577.5Z" fill="#ff7300" stroke="#ff7300" stroke-width="0.7" stroke-linejoin="round"/>
<path d="M326,2147 334.5,2147 345,2145.8 352.5,2142 360,2143.2 370,2147 380,2148.2 390,2150.8 400,2149.5 410,2153.2 420,2157 430,2162 440,2165.8 450,2168.2 460,2174.5 470,2179.5 480,2185.8 490,2192 500,2194.5 510,2188.2 520,2179.5 527.5,2167 537.5,2159.5 547.5,2152 555,2147 562.5,2144.5 570,2150.8 580,2155.8 590,2158.2 602.5,2154.5 615,2155.8 630,2154 637.5,2159.5 650,2164.5 662.5,2168.2 675,2169.5 685,2177 695,2182 705,2189.5 717.5,2195.8 730,2202 735,2217 740,2224.5 750,2225.8 760,2232 767.5,2238.2 775.5,2249.5 783,2262 793,2272 803,2282 815.5,2289.5 828,2299.5 843,2304.5 858,2307 873,2309 888,2308.2 903,2310 918,2310.8 938,2310 958,2308.2 973,2314.5 988,2318.2 1003,2320.8 1018,2324.5 1033,2325.8 1048,2327 1063,2332 1078,2337 1093,2342 1105.5,2343.2 1118,2340.8 1130.5,2344.5 1143,2349.5 1158,2355.8 1173,2359.5 1193,2362 1215.5,2363.5 1241,2363.5 1266,2359 1291,2357.5 1311,2356.5 1326,2358.2 1346,2364.5 326,2371Z" fill="#000"/>
<path d="M519.9,2027.3L517,2002.5L538.8,2014.7" fill="none" stroke="#000" stroke-width="1.6"/>
<path d="M556.2,1542L448.8,1592.5M634.5,1531.2Q615.2,1577.1 535,1594.5M350,1683.8L320,1695.5M550.5,1670Q494.1,1686.9 461.2,1711.2M645,1664.5Q584,1694.6 527,1706.2M738,1672.5Q675.8,1685 610.5,1712.5M528.8,1790.8L478.8,1778.8M626.2,1790.5L551.2,1771.2M418.8,1867.5L419.5,1852M515,1877.5L492,1839.5M705,1870L638.8,1845M815.5,1555.8Q838.6,1572.8 869.2,1573.8M1011.8,1552.5Q1092.4,1565 1175.5,1587.5M850.5,1692.5L831.8,1683.8M969.2,1682Q1020.5,1683 1051.8,1700M1050,1670L1135.5,1711.2M1134.2,1667.5L1223.5,1707.5M858,1791.2L823.5,1773.8M987.5,1776.2L1033.5,1792M935,1855L917.5,1862M1003,1847L1016.8,1870M1089.2,1845.5L1099.2,1871.2M1176,1852.5L1182.5,1865M1367.2,1584.5Q1439.1,1570.2 1498.5,1545M1458.5,1589.5L1574.8,1545M1558.5,1587L1644.8,1546.2M1213,1668.8L1316,1707.5M1237.2,1765.8L1291,1798.8M1322.2,1771.2L1376,1790M1776.5,1584.5L1767,1553M1887.8,1578.8Q1850.2,1569.1 1827.8,1553M1672.8,1694.5L1700.2,1682M1776.5,1701.2L1767,1677M1882.8,1695.5Q1850.2,1691 1832.8,1677.5M1679,1782.5L1695.2,1782.5M1879.5,1792.5L1832,1769.5M1975.2,1790.5L1906,1774.5M1784,1862L1758.5,1853.8M1877,1865L1835.2,1852M1962.8,1864.5L1916.5,1851.2M335.5,1973.2L346.2,1951.5M412.5,2002L426.2,1957M512.5,1995.8L497,1963.2M602.5,1987.5L574.5,1970.8M693.8,1985.8L652.5,1971.5M691.2,2083.2L655,2062M480,2154L445,2142M730,2192Q714.4,2128.2 691.2,2109.5M767.5,2237L733.8,2158.2M868,1972L815.5,1985.8M950.5,1964.5L901.8,1992M1112.5,1972.5L1078.5,1986.5M1192.5,1974L1166.8,1983.2M872.5,2064.5L810.5,2078.2M956,2060L894.2,2085M1039.2,2062.8L981,2083.2M956.8,2222L894.2,2202M1005.5,2300.8L933,2281.5M1019.2,2322.5Q1026.8,2310.2 1049.2,2310M1180.5,2359.5L1188,2344.5M1365.5,1974.5L1333.5,1984M1619.8,1975.8L1586,1984M1422.2,2286.5L1361,2302M1663.5,2302L1628.5,2290.8M1266,2359.5L1267.2,2345.8M1509.8,2362L1492.2,2351.5M1780.2,1979L1757.8,1979M1870.2,1984L1840.2,1975.8M1949,1982L1930.2,1975.8M1709,2077.5L1666.5,2068.2M1787.8,2080L1756,2067.5M1937.8,2077L1941.5,2068.2M1749,2154L1709,2145M1826.5,2156.5L1800.2,2141.5M1897.8,2153.2L1896.5,2144M1972.8,2154L1991.5,2144M1782.8,2217L1761.5,2209.5M1932.8,2216.5L1948.5,2210M1733.5,2305.8L1723.5,2284M1810.2,2304.5L1817,2285.8M1687,2364.5Q1693.1,2331 1662.8,2311.5M1770.2,2364.5Q1772.1,2330.1 1786.5,2303.2M1854,2364.5Q1857.1,2329.5 1877.8,2304.5M1939,2364.5Q1940.2,2332 1961.5,2309.5" fill="none" stroke="#000" stroke-width="1.65" stroke-dasharray="3.6 1.3"/>
<path d="M365,1575.5L305,1565M1098,1550.5Q1180.9,1577.9 1262.2,1578.8M1582.2,1779.5L1621,1785.5M786.8,2077.5L728.8,2067M1103,2303.2L1003,2282.5M1183,2300.8L1093,2284.5M1376,2068.2L1321,2078.2M1256,2300.8L1191,2288.2M1332.2,2298.2L1281.5,2288.2" fill="none" stroke="#333" stroke-width="1.1"/>
<path d="M365,1575.5L305,1565M1098,1550.5Q1180.9,1577.9 1262.2,1578.8M1582.2,1779.5L1621,1785.5M786.8,2077.5L728.8,2067M1103,2303.2L1003,2282.5M1183,2300.8L1093,2284.5M1376,2068.2L1321,2078.2M1256,2300.8L1191,2288.2M1332.2,2298.2L1281.5,2288.2" fill="none" stroke="#000" stroke-width="1.7" stroke-dasharray="7.2 4.8" stroke-dashoffset="2.4"/>
<path d="M460,1558.8Q411.2,1575.9 377.5,1569.5M718.8,1790L628,1779.5M864.2,1558.8L985.5,1572M933,1565Q1026.1,1562.5 1086.8,1582M900.5,1692.5L951.8,1686.2M795.5,1788L720.5,1778.8M866.8,1861.2L818,1855.5M1273.5,1571.2Q1343.5,1576.2 1423.5,1551.2M1391,1691.2Q1439.8,1692.5 1473.5,1678.8M1476,1695.5L1559.8,1685M1568,1692.5L1636,1685.5M1991.5,1576.2L1891,1563.8M425,2097Q415.2,2072 419.5,2047M1001.8,2144.5L935,2152M1087.5,2145L1017.5,2153.2M1049.2,2219L973,2209M1460.5,1975.8L1404.8,1982.5M1542.2,1975.8L1491,1982.5M1631,2077.5L1573.5,2069M1593.5,2300.8L1527.2,2292" fill="none" stroke="#333" stroke-width="1.1"/>
<path d="M460,1558.8Q411.2,1575.9 377.5,1569.5M718.8,1790L628,1779.5M864.2,1558.8L985.5,1572M933,1565Q1026.1,1562.5 1086.8,1582M900.5,1692.5L951.8,1686.2M795.5,1788L720.5,1778.8M866.8,1861.2L818,1855.5M1273.5,1571.2Q1343.5,1576.2 1423.5,1551.2M1391,1691.2Q1439.8,1692.5 1473.5,1678.8M1476,1695.5L1559.8,1685M1568,1692.5L1636,1685.5M1991.5,1576.2L1891,1563.8M425,2097Q415.2,2072 419.5,2047M1001.8,2144.5L935,2152M1087.5,2145L1017.5,2153.2M1049.2,2219L973,2209M1460.5,1975.8L1404.8,1982.5M1542.2,1975.8L1491,1982.5M1631,2077.5L1573.5,2069M1593.5,2300.8L1527.2,2292" fill="none" stroke="#000" stroke-width="1.7" stroke-dasharray="10.8 7.2" stroke-dashoffset="3.6"/>
<path d="M799.2,1690L715,1691.2M790.5,1858.8L725.5,1856.2M1183,1560Q1268.1,1578.2 1344.8,1567.5M1301,1681.2Q1341.6,1693.1 1399.8,1690.5M1415.5,1782.5L1452.2,1782.5M1496.5,1782L1539,1783.8M1980.2,1692.5L1899,1688M570,2145L523,2149.5M788,1975.8L728.8,1979M1123,2070.8L1068,2075.8M1201.8,2070.8L1158,2073.2M915.5,2147.5L854.2,2150M1171.8,2150L1104.2,2147.5M1133,2214.5L1056.8,2212M1215.5,2216.5L1143,2210.8M907.5,2297.5L862.5,2294.5M1283.5,2071.5L1246,2074M1476,2071.5L1390.5,2074.5M1557.2,2074L1477.2,2072.5M1253.5,2150.8L1193,2147M1335.5,2147.5L1277.2,2150.8M1423.5,2147L1348.5,2152M1526,2147L1426,2152.5M1598.5,2150.8L1526,2147.5M1663.5,2149.5L1616,2147.5M1297.2,2213.2L1233,2212M1383.5,2210.8L1314,2217M1476,2210.8L1386,2218.2M1556,2212.8L1474.8,2215.8M1631,2212L1572.2,2215M1519.8,2297L1431.5,2294.5M1701.5,1979L1673.5,1979.5M1674,2150L1616.5,2147.5M1707.8,2212.8L1668.5,2213.2" fill="none" stroke="#333" stroke-width="1.1"/>
<path d="M799.2,1690L715,1691.2M790.5,1858.8L725.5,1856.2M1183,1560Q1268.1,1578.2 1344.8,1567.5M1301,1681.2Q1341.6,1693.1 1399.8,1690.5M1415.5,1782.5L1452.2,1782.5M1496.5,1782L1539,1783.8M1980.2,1692.5L1899,1688M570,2145L523,2149.5M788,1975.8L728.8,1979M1123,2070.8L1068,2075.8M1201.8,2070.8L1158,2073.2M915.5,2147.5L854.2,2150M1171.8,2150L1104.2,2147.5M1133,2214.5L1056.8,2212M1215.5,2216.5L1143,2210.8M907.5,2297.5L862.5,2294.5M1283.5,2071.5L1246,2074M1476,2071.5L1390.5,2074.5M1557.2,2074L1477.2,2072.5M1253.5,2150.8L1193,2147M1335.5,2147.5L1277.2,2150.8M1423.5,2147L1348.5,2152M1526,2147L1426,2152.5M1598.5,2150.8L1526,2147.5M1663.5,2149.5L1616,2147.5M1297.2,2213.2L1233,2212M1383.5,2210.8L1314,2217M1476,2210.8L1386,2218.2M1556,2212.8L1474.8,2215.8M1631,2212L1572.2,2215M1519.8,2297L1431.5,2294.5M1701.5,1979L1673.5,1979.5M1674,2150L1616.5,2147.5M1707.8,2212.8L1668.5,2213.2" fill="none" stroke="#000" stroke-width="1.7" stroke-dasharray="16.2 10.8" stroke-dashoffset="5.4"/>
<path d="M711.2,1539.5L632.5,1595M765,1560L747.5,1576.2M447,1670L393,1709.5M428,1771.2L410,1793.8M610,1873.8L566.2,1839.5M919.2,1787.5L935,1776.2M1071.8,1767.5L1114.2,1798.8M1159.2,1768.8L1199.2,1795M1257.2,1849.5L1272.2,1867.5M1338.5,1847L1357.2,1869.5M1429.8,1856.2L1436,1861.2M1510.5,1852L1526,1864.5M1592.2,1850L1610.5,1867M1666.5,1584.5Q1693,1572.5 1703.5,1550.5M1779.5,1790.5L1763.5,1772M1689,1863L1685.2,1855M373.8,2147L355.5,2125.8M1028,1964.5L991.8,1992M823,2164.5L777.5,2131.5M858,2226.5L826.8,2200M1148,2353.2L1160.5,2343.2M1274,1972L1254.8,1986.5M1433,2359.5L1404.8,2337M1602.2,2362L1583.5,2337M1866,2080.8L1845.2,2064.5M1861.5,2219L1851,2209M1890.2,2303.2L1906,2286.5M1970.2,2303.2L1995.2,2285.8M697.5,2182C694.6,2175.8 687.5,2156.2 680,2144.5C672.5,2132.8 662.5,2120.8 652.5,2112C642.5,2103.2 631.7,2098.7 620,2092C608.3,2085.3 593.3,2078.7 582.5,2072C571.7,2065.3 562.9,2059.1 555,2052C547.1,2044.9 541.3,2037.8 535,2029.5C528.7,2021.2 520,2007 517,2002.5" fill="none" stroke="#000" stroke-width="1.6"/>
<path d="M309.6,1568.5L305,1565L310.5,1563.3zM382.1,1573L377.5,1569.5L383.1,1567.9zM454.5,1592.7L448.8,1592.5L452.3,1587.9zM540.6,1596L535,1594.5L539.5,1590.8zM638.2,1594.2L632.5,1595L635.2,1589.9zM753.1,1574.7L747.5,1576.2L749.5,1570.8zM325.8,1696.1L320,1695.5L323.9,1691.2zM398.7,1708.6L393,1709.5L395.6,1704.3zM467,1710.3L461.2,1711.2L463.8,1706.1zM532.6,1707.8L527,1706.2L531.5,1702.6zM616.3,1712.9L610.5,1712.5L614.2,1708.1zM415.3,1791.4L410,1793.8L411.2,1788.1zM483.2,1782.5L478.8,1778.8L484.4,1777.4zM555.6,1775.1L551.2,1771.2L556.9,1770zM632.8,1782.7L628,1779.5L633.4,1777.5zM416.6,1857L419.5,1852L421.9,1857.3zM492.4,1845.3L492,1839.5L496.9,1842.6zM568.7,1844.8L566.2,1839.5L571.9,1840.6zM642.7,1849.3L638.8,1845L644.5,1844.4zM864.2,1570.9L869.2,1573.8L864,1576.2zM980.6,1568.8L985.5,1572L980.1,1574.1zM1082.6,1577.9L1086.8,1582L1081,1582.9zM1171.2,1583.6L1175.5,1587.5L1169.8,1588.7zM1257.1,1576.1L1262.2,1578.8L1257.1,1581.3zM720.2,1693.8L715,1691.2L720.1,1688.5zM835.3,1688.3L831.8,1683.8L837.5,1683.5zM946.3,1684.3L951.8,1686.2L946.9,1689.5zM1048.5,1695.2L1051.8,1700L1046,1699.8zM1132,1706.6L1135.5,1711.2L1129.7,1711.4zM1219.9,1703L1223.5,1707.5L1217.7,1707.8zM725.3,1782L720.5,1778.8L726,1776.8zM826.9,1778.4L823.5,1773.8L829.3,1773.7zM929.3,1777.1L935,1776.2L932.3,1781.4zM1029.5,1787.8L1033.5,1792L1027.8,1792.8zM1111.6,1793.6L1114.2,1798.8L1108.5,1797.8zM1196.4,1790L1199.2,1795L1193.5,1794.4zM730.6,1859.1L725.5,1856.2L730.8,1853.8zM822.8,1858.7L818,1855.5L823.4,1853.5zM923.3,1862.5L917.5,1862L921.3,1857.6zM1016.4,1864.2L1016.8,1870L1011.8,1866.9zM1099.8,1865.5L1099.2,1871.2L1094.9,1867.4zM1182.5,1859.2L1182.5,1865L1177.8,1861.6zM1339.3,1565.6L1344.8,1567.5L1340,1570.8zM1417.8,1550.3L1423.5,1551.2L1419.4,1555.3zM1492.7,1544.6L1498.5,1545L1494.8,1549.4zM1569,1544.4L1574.8,1545L1570.9,1549.3zM1639,1546.1L1644.8,1546.2L1641.2,1550.8zM1312.1,1703.2L1316,1707.5L1310.2,1708.1zM1394.5,1688.1L1399.8,1690.5L1394.7,1693.4zM1467.7,1678.3L1473.5,1678.8L1469.7,1683.1zM1554.3,1683L1559.8,1685L1554.9,1688.3zM1630.6,1683.4L1636,1685.5L1631.1,1688.6zM1288,1793.8L1291,1798.8L1285.2,1798.3zM1372,1785.8L1376,1790L1370.3,1790.8zM1447.1,1779.9L1452.2,1782.5L1447.1,1785.1zM1533.9,1780.9L1539,1783.8L1533.7,1786.2zM1616.3,1782.1L1621,1785.5L1615.5,1787.3zM1271,1861.8L1272.2,1867.5L1266.9,1865.2zM1356,1863.8L1357.2,1869.5L1351.9,1867.2zM1434.6,1858.2L1436,1861.2L1432.7,1860.6zM1523.6,1859.2L1526,1864.5L1520.3,1863.3zM1608.5,1861.6L1610.5,1867L1604.9,1865.4zM1698.9,1554L1703.5,1550.5L1703.7,1556.3zM1766,1558.7L1767,1553L1771,1557.2zM1830.4,1558.2L1827.8,1553L1833.5,1553.9zM1895.8,1567L1891,1563.8L1896.5,1561.8zM1694.5,1681.7L1700.2,1682L1696.6,1686.5zM1766.4,1682.8L1767,1677L1771.3,1680.9zM1835.2,1682.7L1832.8,1677.5L1838.5,1678.6zM1904,1690.9L1899,1688L1904.3,1685.7zM1690.1,1779.9L1695.2,1782.5L1690.1,1785.1zM1764.9,1777.6L1763.5,1772L1768.9,1774.2zM1835.5,1774.1L1832,1769.5L1837.8,1769.4zM1910.4,1778.2L1906,1774.5L1911.6,1773.1zM1685.1,1858.7L1685.2,1855L1688.2,1857.3zM1762.6,1857.8L1758.5,1853.8L1764.2,1852.8zM1839.4,1856.1L1835.2,1852L1841,1851zM1920.7,1855.2L1916.5,1851.2L1922.2,1850.1zM341.6,1955L346.2,1951.5L346.3,1957.3zM422.2,1961.2L426.2,1957L427.3,1962.7zM496.8,1969L497,1963.2L501.6,1966.8zM577.6,1975.7L574.5,1970.8L580.3,1971.1zM656.5,1975.7L652.5,1971.5L658.2,1970.7zM416,2051.7L419.5,2047L421.2,2052.5zM658.1,2066.9L655,2062L660.8,2062.3zM356.9,2131.4L355.5,2125.8L360.9,2128zM449,2146.2L445,2142L450.7,2141.2zM528.4,2151.6L523,2149.5L527.9,2146.4zM693.6,2114.8L691.2,2109.5L696.9,2110.7zM733.4,2164L733.8,2158.2L738.2,2162zM734.1,1981.3L728.8,1979L733.8,1976.1zM821.2,1987L815.5,1985.8L819.8,1981.9zM907.5,1991.8L901.8,1992L905,1987.2zM997.5,1991L991.8,1992L994.3,1986.8zM1084.3,1987L1078.5,1986.5L1082.3,1982.1zM1172.5,1984L1166.8,1983.2L1170.7,1979zM733.4,2070.5L728.8,2067L734.3,2065.3zM816.1,2079.7L810.5,2078.2L815,2074.6zM900,2085.5L894.2,2085L898.1,2080.6zM986.7,2084L981,2083.2L985,2079.1zM1073.4,2077.9L1068,2075.8L1072.9,2072.7zM1163.3,2075.6L1158,2073.2L1163,2070.3zM780.1,2136.7L777.5,2131.5L783.2,2132.4zM859.5,2152.4L854.2,2150L859.3,2147.2zM940.4,2154L935,2152L939.8,2148.8zM1022.9,2155.3L1017.5,2153.2L1022.3,2150zM1109.3,2150.3L1104.2,2147.5L1109.5,2145.1zM829,2205.4L826.8,2200L832.4,2201.3zM898.4,2206.1L894.2,2202L900,2201.1zM977.8,2212.3L973,2209L978.5,2207.1zM1061.8,2214.8L1056.8,2212L1062,2209.5zM1147.9,2213.8L1143,2210.8L1148.4,2208.5zM867.5,2297.5L862.5,2294.5L867.8,2292.2zM937.3,2285.4L933,2281.5L938.7,2280.3zM1007.5,2286.1L1003,2282.5L1008.6,2281zM1097.6,2288L1093,2284.5L1098.6,2282.8zM1044.1,2307.4L1049.2,2310L1044.1,2312.7zM1154.8,2344.4L1160.5,2343.2L1158.1,2348.5zM1183.3,2347.9L1188,2344.5L1188,2350.3zM1260.5,1985.5L1254.8,1986.5L1257.3,1981.3zM1339.2,1985.1L1333.5,1984L1337.7,1980zM1410.2,1984.5L1404.8,1982.5L1409.6,1979.3zM1496.5,1984.4L1491,1982.5L1495.8,1979.2zM1591.6,1985.3L1586,1984L1590.4,1980.2zM1251.3,2076.3L1246,2074L1251,2071zM1326.6,2079.9L1321,2078.2L1325.6,2074.7zM1395.8,2077L1390.5,2074.5L1395.6,2071.7zM1482.4,2075.2L1477.2,2072.5L1482.5,2070zM1578.2,2072.4L1573.5,2069L1579,2067.2zM1198,2149.9L1193,2147L1198.3,2144.7zM1282.6,2153.1L1277.2,2150.8L1282.3,2147.8zM1353.8,2154.3L1348.5,2152L1353.5,2149zM1431.3,2154.8L1426,2152.5L1431,2149.6zM1531,2150.4L1526,2147.5L1531.3,2145.1zM1621.1,2150.3L1616,2147.5L1621.3,2145.1zM1238.1,2214.7L1233,2212L1238.2,2209.5zM1319.4,2219.2L1314,2217L1318.9,2213.9zM1391.4,2220.4L1386,2218.2L1390.9,2215.2zM1480,2218.2L1474.8,2215.8L1479.8,2212.9zM1577.5,2217.4L1572.2,2215L1577.3,2212.1zM1195.6,2291.8L1191,2288.2L1196.6,2286.6zM1286.1,2291.8L1281.5,2288.2L1287.1,2286.7zM1366.7,2303.3L1361,2302L1365.4,2298.2zM1436.6,2297.3L1431.5,2294.5L1436.7,2292zM1532,2295.3L1527.2,2292L1532.7,2290.1zM1632.6,2294.8L1628.5,2290.8L1634.2,2289.8zM1264.2,2350.7L1267.2,2345.8L1269.4,2351.1zM1407.2,2342.3L1404.8,2337L1410.4,2338.2zM1495.3,2356.4L1492.2,2351.5L1498,2351.9zM1584.5,2342.7L1583.5,2337L1588.7,2339.6zM1678.7,1982L1673.5,1979.5L1678.6,1976.8zM1762.9,1981.6L1757.8,1979L1762.9,1976.4zM1844.5,1979.7L1840.2,1975.8L1845.9,1974.6zM1934.3,1979.9L1930.2,1975.8L1936,1974.9zM1671,2071.9L1666.5,2068.2L1672.1,2066.8zM1759.8,2071.8L1756,2067.5L1761.8,2066.9zM1847.7,2069.8L1845.2,2064.5L1850.9,2065.6zM1938.4,2070.8L1941.5,2068.2L1941.8,2072.2zM1621.5,2150.4L1616.5,2147.5L1621.8,2145.1zM1713.5,2148.7L1709,2145L1714.6,2143.6zM1803.4,2146.4L1800.2,2141.5L1806,2141.8zM1895.2,2147.7L1896.5,2144L1898.7,2147.2zM1985.7,2144.1L1991.5,2144L1988.2,2148.8zM1673.7,2215.8L1668.5,2213.2L1673.6,2210.6zM1765.5,2213.7L1761.5,2209.5L1767.2,2208.7zM1852.9,2214.5L1851,2209L1856.6,2210.7zM1942.7,2209.5L1948.5,2210L1944.7,2214.4zM1723.3,2289.8L1723.5,2284L1728.1,2287.6zM1812.8,2289.7L1817,2285.8L1817.7,2291.5zM1900.5,2288.5L1906,2286.5L1904.4,2292.1zM1989.5,2286.6L1995.2,2285.8L1992.5,2290.9zM1665.7,2316.5L1662.8,2311.5L1668.5,2312.1zM1781.7,2306.6L1786.5,2303.2L1786.4,2309zM1872.4,2306.8L1877.8,2304.5L1876.5,2310.2zM1956,2311.4L1961.5,2309.5L1959.9,2315.1z" fill="#000" stroke="#000" stroke-width="1.1" stroke-linejoin="miter"/>
</g>
<rect x="334.3" y="1398.5" width="1690.7" height="964.8" fill="none" stroke="#0a0a0a" stroke-width="3"/>
<text x="264.3" y="1415.1" font-size="47" text-anchor="end" class="tk">100</text>
<text x="264.3" y="1585" font-size="47" text-anchor="end" class="tk">150</text>
<text x="264.3" y="1705.5" font-size="47" text-anchor="end" class="tk">200</text>
<text x="264.3" y="1799" font-size="47" text-anchor="end" class="tk">250</text>
<text x="264.3" y="1875.4" font-size="47" text-anchor="end" class="tk">300</text>
<text x="264.3" y="1996" font-size="47" text-anchor="end" class="tk">400</text>
<text x="264.3" y="2089.5" font-size="47" text-anchor="end" class="tk">500</text>
<text x="264.3" y="2230.5" font-size="47" text-anchor="end" class="tk">700</text>
<text x="264.3" y="2311.8" font-size="47" text-anchor="end" class="tk">850</text>
<text x="264.3" y="2379.9" font-size="47" text-anchor="end" class="tk">1000</text>
<text x="2094" y="1431.1" font-size="47" text-anchor="start" class="tk">16</text>
<text x="2094" y="1693.6" font-size="47" text-anchor="start" class="tk">12</text>
<text x="2094" y="1947.6" font-size="47" text-anchor="start" class="tk">8</text>
<text x="2094" y="2177.1" font-size="47" text-anchor="start" class="tk">4</text>
<path d="M296.3,1398.5H334.3M296.3,1568.4H334.3M296.3,1688.9H334.3M296.3,1782.4H334.3M296.3,1858.8H334.3M296.3,1979.4H334.3M296.3,2072.9H334.3M296.3,2213.9H334.3M296.3,2295.2H334.3M296.3,2363.3H334.3M2025,1414.5H2063.5M2025,1677H2063.5M2025,1931H2063.5M2025,2160.5H2063.5M672.9,1362.5V1398.5M672.9,2363.3V2399.3M1010.8,1362.5V1398.5M1010.8,2363.3V2399.3M1348.7,1362.5V1398.5M1348.7,2363.3V2399.3M1686.6,1362.5V1398.5M1686.6,2363.3V2399.3" fill="none" stroke="#111" stroke-width="3" stroke-linecap="round"/>
<path d="M335,1380V1398.5M335,2363.3V2381.3M2024.5,1380V1398.5M2024.5,2363.3V2381.3" fill="none" stroke="#333" stroke-width="2"/>
<text class="tk" x="686.9" y="2469.6" font-size="47.5" text-anchor="middle">100<tspan font-size="21" dy="-26" dx="1" style="stroke-width:0.5px">o</tspan><tspan dy="26" dx="1.5"> E</tspan></text>
<text class="tk" x="1024.8" y="2469.6" font-size="47.5" text-anchor="middle">110<tspan font-size="21" dy="-26" dx="1" style="stroke-width:0.5px">o</tspan><tspan dy="26" dx="1.5"> E</tspan></text>
<text class="tk" x="1362.7" y="2469.6" font-size="47.5" text-anchor="middle">120<tspan font-size="21" dy="-26" dx="1" style="stroke-width:0.5px">o</tspan><tspan dy="26" dx="1.5"> E</tspan></text>
<text class="tk" x="1700.6" y="2469.6" font-size="47.5" text-anchor="middle">130<tspan font-size="21" dy="-26" dx="1" style="stroke-width:0.5px">o</tspan><tspan dy="26" dx="1.5"> E</tspan></text>
<text x="332.3" y="1346" font-size="61" text-anchor="start" class="tt" xml:space="preserve">(b)  Altitude-longitude</text>
<text class="ax" transform="translate(101.5,1882.9) rotate(-90) scale(1,1.03)" font-size="75" text-anchor="middle">Pressure (mb)</text>
<text class="ax" transform="translate(2248.5,1880.9) rotate(-90)" font-size="75" text-anchor="middle">Height (km)</text>
<path d="M1903,2404.3H2025.5M2024.5,2404.3V2488.6" fill="none" stroke="#777" stroke-width="2"/>
<path d="M1904,2403.3V2488.6H2025.5" fill="none" stroke="#1a1a1a" stroke-width="3"/>
<text x="1967" y="2440.8" font-size="37" text-anchor="middle" class="tk">1</text>
<path d="M1911,2460.8H1999" fill="none" stroke="#cfcfcf" stroke-width="2.6"/>
<path d="M1991,2450.8L2000.5,2460.8L1991,2470.8" fill="none" stroke="#111" stroke-width="2.2"/>
<path d="M2001,2455.3L2016,2460.8L2001,2466.3" fill="none" stroke="#222" stroke-width="1.3" stroke-dasharray="2.5 2.5"/>
<rect x="454.4" y="2509.6" width="80.6" height="66.4" fill="#001e50" stroke="#1a1a1a" stroke-width="1.2"/>
<rect x="535" y="2509.6" width="80.6" height="66.4" fill="#003c80" stroke="#1a1a1a" stroke-width="1.2"/>
<rect x="615.6" y="2509.6" width="80.6" height="66.4" fill="#005aa5" stroke="#1a1a1a" stroke-width="1.2"/>
<rect x="696.1" y="2509.6" width="80.6" height="66.4" fill="#0082be" stroke="#1a1a1a" stroke-width="1.2"/>
<rect x="776.7" y="2509.6" width="80.6" height="66.4" fill="#00a0d0" stroke="#1a1a1a" stroke-width="1.2"/>
<rect x="857.3" y="2509.6" width="80.6" height="66.4" fill="#1eb4d7" stroke="#1a1a1a" stroke-width="1.2"/>
<rect x="937.9" y="2509.6" width="80.6" height="66.4" fill="#64cde1" stroke="#1a1a1a" stroke-width="1.2"/>
<rect x="1018.4" y="2509.6" width="80.6" height="66.4" fill="#9ae1e8" stroke="#1a1a1a" stroke-width="1.2"/>
<rect x="1099" y="2509.6" width="80.6" height="66.4" fill="#bdeef8" stroke="#1a1a1a" stroke-width="1.2"/>
<rect x="1179.6" y="2509.6" width="80.6" height="66.4" fill="#fff8b0" stroke="#1a1a1a" stroke-width="1.2"/>
<rect x="1260.2" y="2509.6" width="80.6" height="66.4" fill="#ffea78" stroke="#1a1a1a" stroke-width="1.2"/>
<rect x="1340.8" y="2509.6" width="80.6" height="66.4" fill="#ffd955" stroke="#1a1a1a" stroke-width="1.2"/>
<rect x="1421.3" y="2509.6" width="80.6" height="66.4" fill="#ffbe2d" stroke="#1a1a1a" stroke-width="1.2"/>
<rect x="1501.9" y="2509.6" width="80.6" height="66.4" fill="#ff980f" stroke="#1a1a1a" stroke-width="1.2"/>
<rect x="1582.5" y="2509.6" width="80.6" height="66.4" fill="#ff7300" stroke="#1a1a1a" stroke-width="1.2"/>
<rect x="1663.1" y="2509.6" width="80.6" height="66.4" fill="#f05000" stroke="#1a1a1a" stroke-width="1.2"/>
<rect x="1743.6" y="2509.6" width="80.6" height="66.4" fill="#cb3a05" stroke="#1a1a1a" stroke-width="1.2"/>
<rect x="1824.2" y="2509.6" width="80.6" height="66.4" fill="#9b2310" stroke="#1a1a1a" stroke-width="1.2"/>
<rect x="454.4" y="2509.6" width="1450.4" height="66.4" fill="none" stroke="#111" stroke-width="2"/>
<text x="529" y="2628.8" font-size="44" text-anchor="middle" class="tk">−0.8</text>
<text x="690.1" y="2628.8" font-size="44" text-anchor="middle" class="tk">−0.6</text>
<text x="851.3" y="2628.8" font-size="44" text-anchor="middle" class="tk">−0.4</text>
<text x="1012.4" y="2628.8" font-size="44" text-anchor="middle" class="tk">−0.2</text>
<text x="1179.6" y="2628.8" font-size="44" text-anchor="middle" class="tk">0</text>
<text x="1340.8" y="2628.8" font-size="44" text-anchor="middle" class="tk">0.2</text>
<text x="1501.9" y="2628.8" font-size="44" text-anchor="middle" class="tk">0.4</text>
<text x="1663.1" y="2628.8" font-size="44" text-anchor="middle" class="tk">0.6</text>
<text x="1824.2" y="2628.8" font-size="44" text-anchor="middle" class="tk">0.8</text>
</svg></body></html>
